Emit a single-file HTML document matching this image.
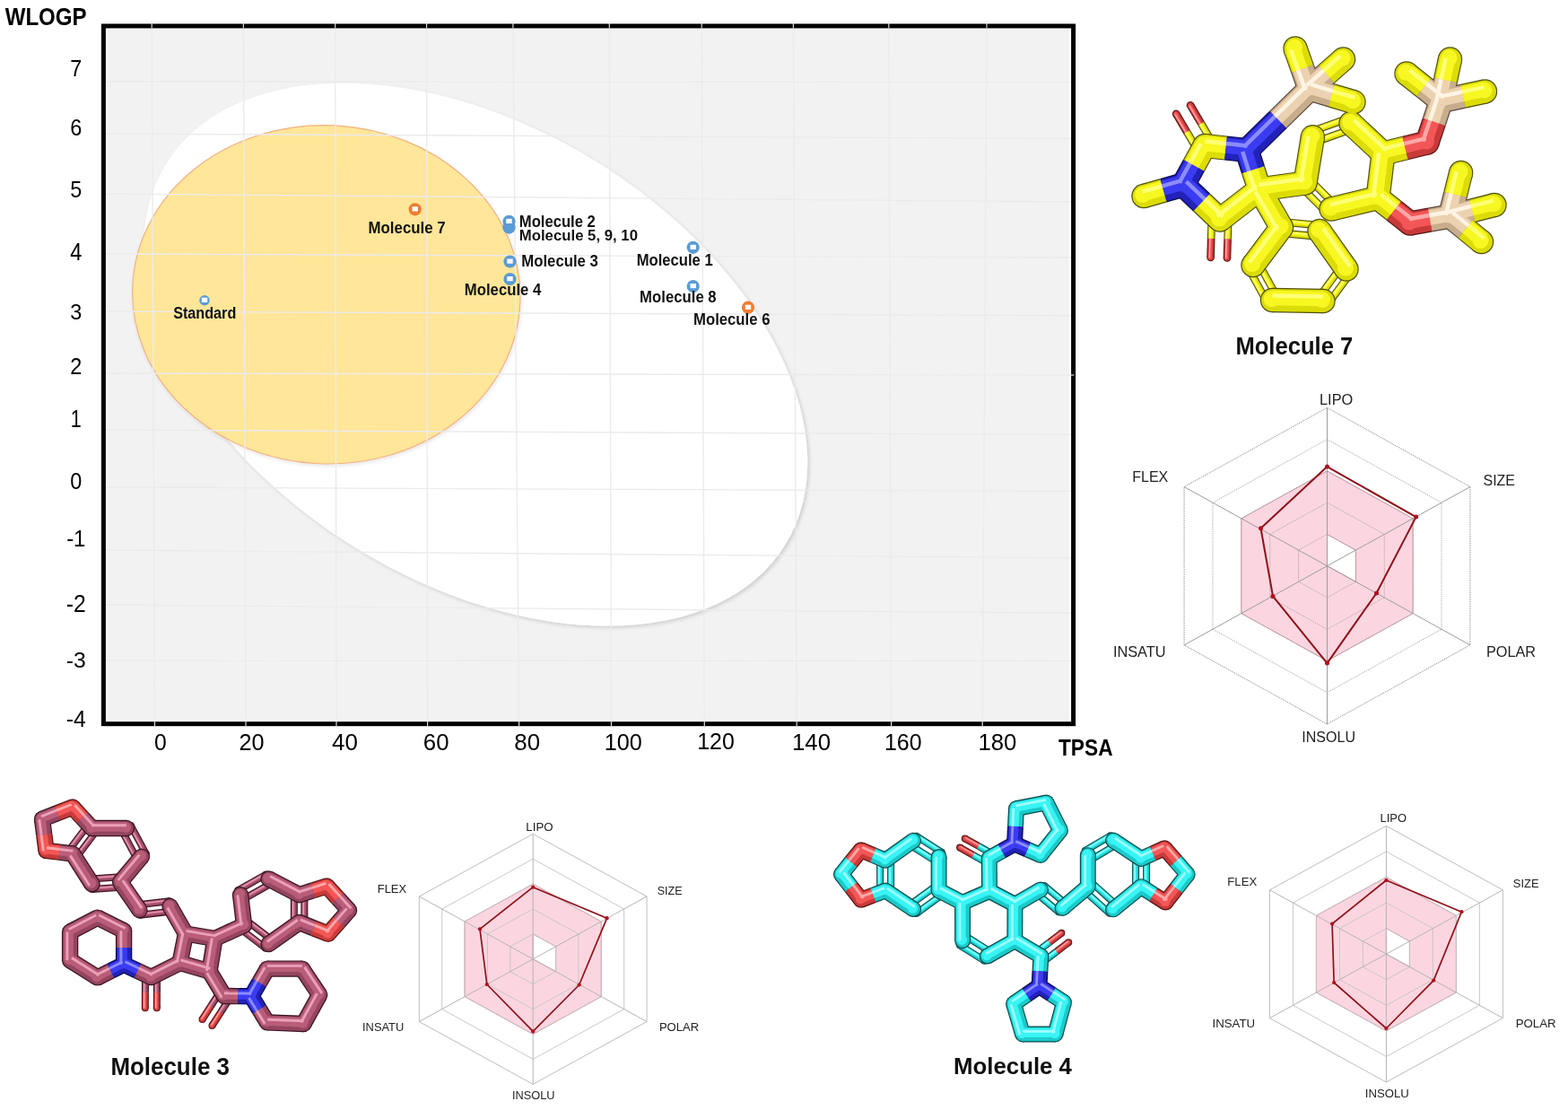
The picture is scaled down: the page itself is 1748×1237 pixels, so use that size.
<!DOCTYPE html>
<html><head><meta charset="utf-8"><title>BOILED-Egg and bioavailability radars</title>
<style>html,body{margin:0;padding:0;background:#fff;}svg{display:block;}</style></head>
<body><svg width="1748" height="1237" viewBox="0 0 1748 1237">
<defs>
<filter id="sh" x="-10%" y="-10%" width="120%" height="120%">
<feGaussianBlur in="SourceAlpha" stdDeviation="2.2"/><feOffset dx="1.8" dy="2.2" result="b"/>
<feComponentTransfer><feFuncA type="linear" slope="0.16"/></feComponentTransfer>
<feMerge><feMergeNode/><feMergeNode in="SourceGraphic"/></feMerge></filter>
<filter id="sh2" x="-10%" y="-10%" width="120%" height="120%">
<feGaussianBlur in="SourceAlpha" stdDeviation="2"/><feOffset dx="1" dy="2" result="b"/>
<feComponentTransfer><feFuncA type="linear" slope="0.10"/></feComponentTransfer>
<feMerge><feMergeNode/><feMergeNode in="SourceGraphic"/></feMerge></filter>
</defs><rect x="0" y="0" width="1748" height="1237" fill="#ffffff"/>
<rect x="119.5" y="33" width="1072.5" height="769" fill="#f2f2f2"/>
<g filter="url(#sh)"><ellipse cx="530.17" cy="395.04" rx="405.17" ry="253.59" transform="rotate(31.48 530.17 395.04)" fill="#ffffff"/></g>
<g filter="url(#sh2)"><ellipse cx="363.82" cy="328.29" rx="216.19" ry="188.63" transform="rotate(2.54 363.82 328.29)" fill="#ffe699" stroke="#f4b183" stroke-width="1.2"/></g>
<g stroke="#ebebeb" stroke-width="1.4"><line x1="169.2" y1="24" x2="172.5" y2="811"/><line x1="271.4" y1="24" x2="274.0" y2="811"/><line x1="373.7" y1="24" x2="375.0" y2="811"/><line x1="475.6" y1="24" x2="476.6" y2="811"/><line x1="571.9" y1="24" x2="578.6" y2="811"/><line x1="679.3" y1="24" x2="681.5" y2="811"/><line x1="782.2" y1="24" x2="785.3" y2="811"/><line x1="884.4" y1="24" x2="888.2" y2="811"/><line x1="990.8" y1="24" x2="993.6" y2="811"/><line x1="1100.0" y1="24" x2="1095.2" y2="811"/><line x1="118" y1="91.0" x2="1194" y2="91.4"/><line x1="118" y1="149.0" x2="1194" y2="154.5"/><line x1="118" y1="216.0" x2="1194" y2="225.0"/><line x1="118" y1="283.0" x2="1194" y2="287.0"/><line x1="118" y1="347.0" x2="1194" y2="351.7"/><line x1="118" y1="416.0" x2="1194" y2="418.0"/><line x1="118" y1="479.0" x2="1194" y2="484.4"/><line x1="118" y1="543.0" x2="1194" y2="547.4"/><line x1="118" y1="613.0" x2="1194" y2="621.8"/><line x1="118" y1="674.0" x2="1194" y2="683.2"/><line x1="118" y1="736.0" x2="1194" y2="736.6"/></g>
<rect x="115.4" y="29" width="1081.2" height="777.7" fill="none" stroke="#000" stroke-width="5"/>
<g stroke="#ffffff" stroke-width="1.2" opacity="0.85"><line x1="169.2" y1="26" x2="169.2" y2="31.5"/><line x1="271.4" y1="26" x2="271.4" y2="31.5"/><line x1="373.7" y1="26" x2="373.7" y2="31.5"/><line x1="475.6" y1="26" x2="475.6" y2="31.5"/><line x1="571.9" y1="26" x2="571.9" y2="31.5"/><line x1="679.3" y1="26" x2="679.3" y2="31.5"/><line x1="782.2" y1="26" x2="782.2" y2="31.5"/><line x1="884.4" y1="26" x2="884.4" y2="31.5"/><line x1="990.8" y1="26" x2="990.8" y2="31.5"/><line x1="1100.0" y1="26" x2="1100.0" y2="31.5"/><line x1="172.5" y1="804" x2="172.5" y2="809.5"/><line x1="274.0" y1="804" x2="274.0" y2="809.5"/><line x1="375.0" y1="804" x2="375.0" y2="809.5"/><line x1="476.6" y1="804" x2="476.6" y2="809.5"/><line x1="578.6" y1="804" x2="578.6" y2="809.5"/><line x1="681.5" y1="804" x2="681.5" y2="809.5"/><line x1="785.3" y1="804" x2="785.3" y2="809.5"/><line x1="888.2" y1="804" x2="888.2" y2="809.5"/><line x1="993.6" y1="804" x2="993.6" y2="809.5"/><line x1="1095.2" y1="804" x2="1095.2" y2="809.5"/><line x1="1193.5" y1="418" x2="1197.5" y2="418"/></g>
<text x="5.70" y="27.70" font-family="'Liberation Sans', Arial, sans-serif" font-size="27.03" font-weight="bold" fill="#000" textLength="90.96" lengthAdjust="spacingAndGlyphs">WLOGP</text>
<text x="1180.00" y="842.00" font-family="'Liberation Sans', Arial, sans-serif" font-size="26.31" font-weight="bold" fill="#000" textLength="60.55" lengthAdjust="spacingAndGlyphs">TPSA</text>
<text x="78.30" y="84.60" font-family="'Liberation Sans', Arial, sans-serif" font-size="26.31" font-weight="normal" fill="#000" textLength="13.03" lengthAdjust="spacingAndGlyphs">7</text>
<text x="78.30" y="151.20" font-family="'Liberation Sans', Arial, sans-serif" font-size="25.00" font-weight="normal" fill="#000" textLength="13.03" lengthAdjust="spacingAndGlyphs">6</text>
<text x="78.30" y="220.10" font-family="'Liberation Sans', Arial, sans-serif" font-size="25.73" font-weight="normal" fill="#000" textLength="13.03" lengthAdjust="spacingAndGlyphs">5</text>
<text x="78.30" y="289.90" font-family="'Liberation Sans', Arial, sans-serif" font-size="27.03" font-weight="normal" fill="#000" textLength="13.03" lengthAdjust="spacingAndGlyphs">4</text>
<text x="78.30" y="355.50" font-family="'Liberation Sans', Arial, sans-serif" font-size="24.42" font-weight="normal" fill="#000" textLength="13.03" lengthAdjust="spacingAndGlyphs">3</text>
<text x="78.30" y="417.30" font-family="'Liberation Sans', Arial, sans-serif" font-size="25.58" font-weight="normal" fill="#000" textLength="13.03" lengthAdjust="spacingAndGlyphs">2</text>
<text x="78.80" y="476.10" font-family="'Liberation Sans', Arial, sans-serif" font-size="27.18" font-weight="normal" fill="#000" textLength="12.03" lengthAdjust="spacingAndGlyphs">1</text>
<text x="78.30" y="545.10" font-family="'Liberation Sans', Arial, sans-serif" font-size="24.85" font-weight="normal" fill="#000" textLength="13.03" lengthAdjust="spacingAndGlyphs">0</text>
<text x="74.15" y="609.00" font-family="'Liberation Sans', Arial, sans-serif" font-size="25.29" font-weight="normal" fill="#000" textLength="21.28" lengthAdjust="spacingAndGlyphs">-1</text>
<text x="73.80" y="681.70" font-family="'Liberation Sans', Arial, sans-serif" font-size="26.74" font-weight="normal" fill="#000" textLength="21.98" lengthAdjust="spacingAndGlyphs">-2</text>
<text x="73.80" y="744.30" font-family="'Liberation Sans', Arial, sans-serif" font-size="24.13" font-weight="normal" fill="#000" textLength="21.98" lengthAdjust="spacingAndGlyphs">-3</text>
<text x="73.80" y="809.70" font-family="'Liberation Sans', Arial, sans-serif" font-size="25.44" font-weight="normal" fill="#000" textLength="21.98" lengthAdjust="spacingAndGlyphs">-4</text>
<text x="172.00" y="836.20" font-family="'Liberation Sans', Arial, sans-serif" font-size="25.87" font-weight="normal" fill="#000" textLength="13.73" lengthAdjust="spacingAndGlyphs">0</text>
<text x="266.40" y="836.20" font-family="'Liberation Sans', Arial, sans-serif" font-size="25.87" font-weight="normal" fill="#000" textLength="28.06" lengthAdjust="spacingAndGlyphs">20</text>
<text x="370.00" y="836.20" font-family="'Liberation Sans', Arial, sans-serif" font-size="25.87" font-weight="normal" fill="#000" textLength="28.86" lengthAdjust="spacingAndGlyphs">40</text>
<text x="471.80" y="836.20" font-family="'Liberation Sans', Arial, sans-serif" font-size="25.87" font-weight="normal" fill="#000" textLength="28.66" lengthAdjust="spacingAndGlyphs">60</text>
<text x="573.30" y="836.20" font-family="'Liberation Sans', Arial, sans-serif" font-size="25.87" font-weight="normal" fill="#000" textLength="28.76" lengthAdjust="spacingAndGlyphs">80</text>
<text x="673.70" y="836.20" font-family="'Liberation Sans', Arial, sans-serif" font-size="25.87" font-weight="normal" fill="#000" textLength="42.06" lengthAdjust="spacingAndGlyphs">100</text>
<text x="777.30" y="834.80" font-family="'Liberation Sans', Arial, sans-serif" font-size="25.87" font-weight="normal" fill="#000" textLength="41.46" lengthAdjust="spacingAndGlyphs">120</text>
<text x="883.00" y="836.20" font-family="'Liberation Sans', Arial, sans-serif" font-size="25.87" font-weight="normal" fill="#000" textLength="42.96" lengthAdjust="spacingAndGlyphs">140</text>
<text x="986.00" y="836.20" font-family="'Liberation Sans', Arial, sans-serif" font-size="25.87" font-weight="normal" fill="#000" textLength="41.56" lengthAdjust="spacingAndGlyphs">160</text>
<text x="1090.50" y="836.20" font-family="'Liberation Sans', Arial, sans-serif" font-size="25.87" font-weight="normal" fill="#000" textLength="42.86" lengthAdjust="spacingAndGlyphs">180</text>
<circle cx="462.7" cy="233.3" r="7.10" fill="#ed7d31"/><rect x="459.5" y="230.3" width="6.4" height="5.2" fill="#fff"/>
<circle cx="228.0" cy="334.7" r="5.70" fill="#5b9bd5"/><rect x="224.8" y="331.7" width="6.4" height="5.2" fill="#fff"/>
<circle cx="567.5" cy="253.5" r="7.2" fill="#5b9bd5"/>
<circle cx="567.5" cy="246.8" r="7.10" fill="#5b9bd5"/><rect x="564.3" y="243.8" width="6.4" height="5.2" fill="#fff"/>
<circle cx="568.5" cy="291.5" r="7.10" fill="#5b9bd5"/><rect x="565.3" y="288.5" width="6.4" height="5.2" fill="#fff"/>
<circle cx="568.5" cy="311.0" r="7.10" fill="#5b9bd5"/><rect x="565.3" y="308.0" width="6.4" height="5.2" fill="#fff"/>
<circle cx="772.7" cy="275.8" r="7.10" fill="#5b9bd5"/><rect x="769.5" y="272.8" width="6.4" height="5.2" fill="#fff"/>
<circle cx="772.7" cy="319.0" r="7.10" fill="#5b9bd5"/><rect x="769.5" y="316.0" width="6.4" height="5.2" fill="#fff"/>
<circle cx="834.0" cy="342.7" r="7.10" fill="#ed7d31"/><rect x="830.8" y="339.7" width="6.4" height="5.2" fill="#fff"/>
<text x="410.50" y="259.90" font-family="'Liberation Sans', Arial, sans-serif" font-size="18.46" font-weight="bold" fill="#111" textLength="86.16" lengthAdjust="spacingAndGlyphs">Molecule 7</text>
<text x="193.20" y="355.20" font-family="'Liberation Sans', Arial, sans-serif" font-size="18.46" font-weight="bold" fill="#111" textLength="70.09" lengthAdjust="spacingAndGlyphs">Standard</text>
<text x="578.80" y="253.30" font-family="'Liberation Sans', Arial, sans-serif" font-size="17.88" font-weight="bold" fill="#111" textLength="85.06" lengthAdjust="spacingAndGlyphs">Molecule 2</text>
<text x="578.80" y="267.50" font-family="'Liberation Sans', Arial, sans-serif" font-size="17.30" font-weight="bold" fill="#111" textLength="132.16" lengthAdjust="spacingAndGlyphs">Molecule 5, 9, 10</text>
<text x="581.20" y="297.30" font-family="'Liberation Sans', Arial, sans-serif" font-size="18.31" font-weight="bold" fill="#111" textLength="85.76" lengthAdjust="spacingAndGlyphs">Molecule 3</text>
<text x="517.80" y="329.30" font-family="'Liberation Sans', Arial, sans-serif" font-size="18.31" font-weight="bold" fill="#111" textLength="85.56" lengthAdjust="spacingAndGlyphs">Molecule 4</text>
<text x="709.70" y="295.50" font-family="'Liberation Sans', Arial, sans-serif" font-size="18.31" font-weight="bold" fill="#111" textLength="85.06" lengthAdjust="spacingAndGlyphs">Molecule 1</text>
<text x="713.10" y="337.30" font-family="'Liberation Sans', Arial, sans-serif" font-size="18.31" font-weight="bold" fill="#111" textLength="85.56" lengthAdjust="spacingAndGlyphs">Molecule 8</text>
<text x="773.00" y="362.00" font-family="'Liberation Sans', Arial, sans-serif" font-size="17.44" font-weight="bold" fill="#111" textLength="85.46" lengthAdjust="spacingAndGlyphs">Molecule 6</text>
<path d="M1479.50,524.92 L1575.14,577.81 L1575.14,683.59 L1479.50,736.48 L1383.86,683.59 L1383.86,577.81 Z M1479.50,630.70 L1479.50,595.44 L1511.38,613.07 L1511.38,648.33 Z" fill="#fbd6e0" fill-rule="evenodd" stroke="#d39aa6" stroke-width="1"/><polygon points="1479.50,595.44 1511.38,613.07 1511.38,648.33 1479.50,665.96 1447.62,648.33 1447.62,613.07" fill="none" stroke="#a0a0a0" stroke-width="0.9" stroke-dasharray="1.3,1.1"/><polygon points="1479.50,560.18 1543.26,595.44 1543.26,665.96 1479.50,701.22 1415.74,665.96 1415.74,595.44" fill="none" stroke="#a0a0a0" stroke-width="0.9" stroke-dasharray="1.3,1.1"/><polygon points="1479.50,524.92 1575.14,577.81 1575.14,683.59 1479.50,736.48 1383.86,683.59 1383.86,577.81" fill="none" stroke="#a0a0a0" stroke-width="0.9" stroke-dasharray="1.3,1.1"/><polygon points="1479.50,489.66 1607.02,560.18 1607.02,701.22 1479.50,771.74 1351.98,701.22 1351.98,560.18" fill="none" stroke="#a0a0a0" stroke-width="0.9" stroke-dasharray="1.3,1.1"/><polygon points="1479.50,454.40 1638.90,542.55 1638.90,718.85 1479.50,807.00 1320.10,718.85 1320.10,542.55" fill="none" stroke="#9a9a9a" stroke-width="1" stroke-dasharray="1.6,1"/><line x1="1479.50" y1="630.70" x2="1479.50" y2="454.40" stroke="#9c9c9c" stroke-width="1"/><line x1="1479.50" y1="630.70" x2="1638.90" y2="542.55" stroke="#9c9c9c" stroke-width="1"/><line x1="1479.50" y1="630.70" x2="1638.90" y2="718.85" stroke="#9c9c9c" stroke-width="1"/><line x1="1479.50" y1="630.70" x2="1479.50" y2="807.00" stroke="#9c9c9c" stroke-width="1"/><line x1="1479.50" y1="630.70" x2="1320.10" y2="718.85" stroke="#9c9c9c" stroke-width="1"/><line x1="1479.50" y1="630.70" x2="1320.10" y2="542.55" stroke="#9c9c9c" stroke-width="1"/><polygon points="1479.50,520.10 1578.60,576.10 1534.50,661.00 1479.50,739.10 1419.00,664.40 1405.50,588.70" fill="none" stroke="#8e1119" stroke-width="2.00" stroke-linejoin="round"/><circle cx="1479.50" cy="520.10" r="2.50" fill="#b0101c"/><circle cx="1578.60" cy="576.10" r="2.50" fill="#b0101c"/><circle cx="1534.50" cy="661.00" r="2.50" fill="#b0101c"/><circle cx="1479.50" cy="739.10" r="2.50" fill="#b0101c"/><circle cx="1419.00" cy="664.40" r="2.50" fill="#b0101c"/><circle cx="1405.50" cy="588.70" r="2.50" fill="#b0101c"/><text x="1471.00" y="450.70" font-family="'Liberation Sans', Arial, sans-serif" font-size="15.99" font-weight="normal" fill="#222" textLength="37.28" lengthAdjust="spacingAndGlyphs">LIPO</text><text x="1262.20" y="537.10" font-family="'Liberation Sans', Arial, sans-serif" font-size="16.28" font-weight="normal" fill="#222" textLength="40.12" lengthAdjust="spacingAndGlyphs">FLEX</text><text x="1653.60" y="540.50" font-family="'Liberation Sans', Arial, sans-serif" font-size="16.28" font-weight="normal" fill="#222" textLength="35.36" lengthAdjust="spacingAndGlyphs">SIZE</text><text x="1240.90" y="731.60" font-family="'Liberation Sans', Arial, sans-serif" font-size="16.28" font-weight="normal" fill="#222" textLength="58.67" lengthAdjust="spacingAndGlyphs">INSATU</text><text x="1657.00" y="731.60" font-family="'Liberation Sans', Arial, sans-serif" font-size="16.28" font-weight="normal" fill="#222" textLength="55.00" lengthAdjust="spacingAndGlyphs">POLAR</text><text x="1451.30" y="826.70" font-family="'Liberation Sans', Arial, sans-serif" font-size="16.42" font-weight="normal" fill="#222" textLength="59.67" lengthAdjust="spacingAndGlyphs">INSOLU</text>
<path d="M594.20,985.10 L670.31,1026.95 L670.31,1110.65 L594.20,1152.50 L518.09,1110.65 L518.09,1026.95 Z M594.20,1068.80 L594.20,1040.90 L619.57,1054.85 L619.57,1082.75 Z" fill="#fbd6e0" fill-rule="evenodd" stroke="#d39aa6" stroke-width="1"/><polygon points="594.20,1040.90 619.57,1054.85 619.57,1082.75 594.20,1096.70 568.83,1082.75 568.83,1054.85" fill="none" stroke="#c3c3c3" stroke-width="0.9"/><polygon points="594.20,1013.00 644.94,1040.90 644.94,1096.70 594.20,1124.60 543.46,1096.70 543.46,1040.90" fill="none" stroke="#c3c3c3" stroke-width="0.9"/><polygon points="594.20,985.10 670.31,1026.95 670.31,1110.65 594.20,1152.50 518.09,1110.65 518.09,1026.95" fill="none" stroke="#c3c3c3" stroke-width="0.9"/><polygon points="594.20,957.20 695.68,1013.00 695.68,1124.60 594.20,1180.40 492.72,1124.60 492.72,1013.00" fill="none" stroke="#c3c3c3" stroke-width="0.9"/><polygon points="594.20,929.30 721.05,999.05 721.05,1138.55 594.20,1208.30 467.35,1138.55 467.35,999.05" fill="none" stroke="#bdbdbd" stroke-width="1"/><line x1="594.20" y1="1068.80" x2="594.20" y2="929.30" stroke="#b4b4b4" stroke-width="1"/><line x1="594.20" y1="1068.80" x2="721.05" y2="999.05" stroke="#b4b4b4" stroke-width="1"/><line x1="594.20" y1="1068.80" x2="721.05" y2="1138.55" stroke="#b4b4b4" stroke-width="1"/><line x1="594.20" y1="1068.80" x2="594.20" y2="1208.30" stroke="#b4b4b4" stroke-width="1"/><line x1="594.20" y1="1068.80" x2="467.35" y2="1138.55" stroke="#b4b4b4" stroke-width="1"/><line x1="594.20" y1="1068.80" x2="467.35" y2="999.05" stroke="#b4b4b4" stroke-width="1"/><polygon points="594.20,988.70 676.60,1023.20 645.70,1097.50 594.20,1149.40 542.80,1097.00 535.00,1035.30" fill="none" stroke="#8e1119" stroke-width="1.70" stroke-linejoin="round"/><circle cx="594.20" cy="988.70" r="2.12" fill="#b0101c"/><circle cx="676.60" cy="1023.20" r="2.12" fill="#b0101c"/><circle cx="645.70" cy="1097.50" r="2.12" fill="#b0101c"/><circle cx="594.20" cy="1149.40" r="2.12" fill="#b0101c"/><circle cx="542.80" cy="1097.00" r="2.12" fill="#b0101c"/><circle cx="535.00" cy="1035.30" r="2.12" fill="#b0101c"/><text x="586.30" y="925.80" font-family="'Liberation Sans', Arial, sans-serif" font-size="13.37" font-weight="normal" fill="#222" textLength="30.28" lengthAdjust="spacingAndGlyphs">LIPO</text><text x="420.80" y="994.50" font-family="'Liberation Sans', Arial, sans-serif" font-size="13.37" font-weight="normal" fill="#222" textLength="32.31" lengthAdjust="spacingAndGlyphs">FLEX</text><text x="732.70" y="996.80" font-family="'Liberation Sans', Arial, sans-serif" font-size="13.37" font-weight="normal" fill="#222" textLength="27.97" lengthAdjust="spacingAndGlyphs">SIZE</text><text x="404.00" y="1149.40" font-family="'Liberation Sans', Arial, sans-serif" font-size="13.52" font-weight="normal" fill="#222" textLength="46.27" lengthAdjust="spacingAndGlyphs">INSATU</text><text x="734.90" y="1149.40" font-family="'Liberation Sans', Arial, sans-serif" font-size="13.52" font-weight="normal" fill="#222" textLength="44.30" lengthAdjust="spacingAndGlyphs">POLAR</text><text x="570.90" y="1224.80" font-family="'Liberation Sans', Arial, sans-serif" font-size="13.52" font-weight="normal" fill="#222" textLength="47.58" lengthAdjust="spacingAndGlyphs">INSOLU</text>
<path d="M1545.40,977.52 L1623.39,1020.36 L1623.39,1106.04 L1545.40,1148.88 L1467.41,1106.04 L1467.41,1020.36 Z M1545.40,1063.20 L1545.40,1034.64 L1571.40,1048.92 L1571.40,1077.48 Z" fill="#fbd6e0" fill-rule="evenodd" stroke="#d39aa6" stroke-width="1"/><polygon points="1545.40,1034.64 1571.40,1048.92 1571.40,1077.48 1545.40,1091.76 1519.40,1077.48 1519.40,1048.92" fill="none" stroke="#c3c3c3" stroke-width="0.9"/><polygon points="1545.40,1006.08 1597.39,1034.64 1597.39,1091.76 1545.40,1120.32 1493.41,1091.76 1493.41,1034.64" fill="none" stroke="#c3c3c3" stroke-width="0.9"/><polygon points="1545.40,977.52 1623.39,1020.36 1623.39,1106.04 1545.40,1148.88 1467.41,1106.04 1467.41,1020.36" fill="none" stroke="#c3c3c3" stroke-width="0.9"/><polygon points="1545.40,948.96 1649.38,1006.08 1649.38,1120.32 1545.40,1177.44 1441.42,1120.32 1441.42,1006.08" fill="none" stroke="#c3c3c3" stroke-width="0.9"/><polygon points="1545.40,920.40 1675.38,991.80 1675.38,1134.60 1545.40,1206.00 1415.42,1134.60 1415.42,991.80" fill="none" stroke="#bdbdbd" stroke-width="1"/><line x1="1545.40" y1="1063.20" x2="1545.40" y2="920.40" stroke="#b4b4b4" stroke-width="1"/><line x1="1545.40" y1="1063.20" x2="1675.38" y2="991.80" stroke="#b4b4b4" stroke-width="1"/><line x1="1545.40" y1="1063.20" x2="1675.38" y2="1134.60" stroke="#b4b4b4" stroke-width="1"/><line x1="1545.40" y1="1063.20" x2="1545.40" y2="1206.00" stroke="#b4b4b4" stroke-width="1"/><line x1="1545.40" y1="1063.20" x2="1415.42" y2="1134.60" stroke="#b4b4b4" stroke-width="1"/><line x1="1545.40" y1="1063.20" x2="1415.42" y2="991.80" stroke="#b4b4b4" stroke-width="1"/><polygon points="1545.40,981.00 1629.40,1016.20 1598.20,1092.60 1545.40,1146.00 1487.10,1095.00 1485.10,1029.50" fill="none" stroke="#8e1119" stroke-width="1.70" stroke-linejoin="round"/><circle cx="1545.40" cy="981.00" r="2.12" fill="#b0101c"/><circle cx="1629.40" cy="1016.20" r="2.12" fill="#b0101c"/><circle cx="1598.20" cy="1092.60" r="2.12" fill="#b0101c"/><circle cx="1545.40" cy="1146.00" r="2.12" fill="#b0101c"/><circle cx="1487.10" cy="1095.00" r="2.12" fill="#b0101c"/><circle cx="1485.10" cy="1029.50" r="2.12" fill="#b0101c"/><text x="1538.50" y="916.40" font-family="'Liberation Sans', Arial, sans-serif" font-size="13.37" font-weight="normal" fill="#222" textLength="29.48" lengthAdjust="spacingAndGlyphs">LIPO</text><text x="1368.30" y="987.00" font-family="'Liberation Sans', Arial, sans-serif" font-size="13.37" font-weight="normal" fill="#222" textLength="32.91" lengthAdjust="spacingAndGlyphs">FLEX</text><text x="1686.80" y="989.20" font-family="'Liberation Sans', Arial, sans-serif" font-size="13.66" font-weight="normal" fill="#222" textLength="28.77" lengthAdjust="spacingAndGlyphs">SIZE</text><text x="1351.50" y="1145.40" font-family="'Liberation Sans', Arial, sans-serif" font-size="13.37" font-weight="normal" fill="#222" textLength="47.57" lengthAdjust="spacingAndGlyphs">INSATU</text><text x="1689.70" y="1145.40" font-family="'Liberation Sans', Arial, sans-serif" font-size="13.37" font-weight="normal" fill="#222" textLength="45.00" lengthAdjust="spacingAndGlyphs">POLAR</text><text x="1521.80" y="1222.80" font-family="'Liberation Sans', Arial, sans-serif" font-size="13.37" font-weight="normal" fill="#222" textLength="48.98" lengthAdjust="spacingAndGlyphs">INSOLU</text>
<text x="1377.40" y="395.00" font-family="'Liberation Sans', Arial, sans-serif" font-size="28.20" font-weight="bold" fill="#111" textLength="130.85" lengthAdjust="spacingAndGlyphs">Molecule 7</text>
<text x="123.40" y="1197.70" font-family="'Liberation Sans', Arial, sans-serif" font-size="27.91" font-weight="bold" fill="#111" textLength="132.55" lengthAdjust="spacingAndGlyphs">Molecule 3</text>
<text x="1063.00" y="1196.70" font-family="'Liberation Sans', Arial, sans-serif" font-size="26.60" font-weight="bold" fill="#111" textLength="131.95" lengthAdjust="spacingAndGlyphs">Molecule 4</text>
<line x1="1461.30" y1="146.81" x2="1503.90" y2="131.61" stroke="#50500a" stroke-width="8.60"/><circle cx="1461.30" cy="146.81" r="4.30" fill="#50500a"/><circle cx="1503.90" cy="131.61" r="4.30" fill="#50500a"/><line x1="1465.50" y1="158.59" x2="1508.10" y2="143.39" stroke="#50500a" stroke-width="8.60"/><circle cx="1465.50" cy="158.59" r="4.30" fill="#50500a"/><circle cx="1508.10" cy="143.39" r="4.30" fill="#50500a"/><line x1="1479.58" y1="237.42" x2="1450.58" y2="208.42" stroke="#50500a" stroke-width="8.60"/><circle cx="1479.58" cy="237.42" r="4.30" fill="#50500a"/><circle cx="1450.58" cy="208.42" r="4.30" fill="#50500a"/><line x1="1488.42" y1="228.58" x2="1459.42" y2="199.58" stroke="#50500a" stroke-width="8.60"/><circle cx="1488.42" cy="228.58" r="4.30" fill="#50500a"/><circle cx="1459.42" cy="199.58" r="4.30" fill="#50500a"/><line x1="1429.07" y1="247.28" x2="1471.57" y2="251.18" stroke="#50500a" stroke-width="8.60"/><circle cx="1429.07" cy="247.28" r="4.30" fill="#50500a"/><circle cx="1471.57" cy="251.18" r="4.30" fill="#50500a"/><line x1="1427.93" y1="259.72" x2="1470.43" y2="263.62" stroke="#50500a" stroke-width="8.60"/><circle cx="1427.93" cy="259.72" r="4.30" fill="#50500a"/><circle cx="1470.43" cy="263.62" r="4.30" fill="#50500a"/><line x1="1506.04" y1="303.69" x2="1480.04" y2="339.19" stroke="#50500a" stroke-width="8.60"/><circle cx="1506.04" cy="303.69" r="4.30" fill="#50500a"/><circle cx="1480.04" cy="339.19" r="4.30" fill="#50500a"/><line x1="1495.96" y1="296.31" x2="1469.96" y2="331.81" stroke="#50500a" stroke-width="8.60"/><circle cx="1495.96" cy="296.31" r="4.30" fill="#50500a"/><circle cx="1469.96" cy="331.81" r="4.30" fill="#50500a"/><line x1="1413.03" y1="337.52" x2="1391.53" y2="298.52" stroke="#50500a" stroke-width="8.60"/><circle cx="1413.03" cy="337.52" r="4.30" fill="#50500a"/><circle cx="1391.53" cy="298.52" r="4.30" fill="#50500a"/><line x1="1423.97" y1="331.48" x2="1402.47" y2="292.48" stroke="#50500a" stroke-width="8.60"/><circle cx="1423.97" cy="331.48" r="4.30" fill="#50500a"/><circle cx="1402.47" cy="292.48" r="4.30" fill="#50500a"/><line x1="1335.03" y1="167.20" x2="1323.08" y2="146.95" stroke="#50500a" stroke-width="8.60"/><line x1="1323.08" y1="146.95" x2="1311.13" y2="126.70" stroke="#551515" stroke-width="8.60"/><circle cx="1335.03" cy="167.20" r="4.30" fill="#50500a"/><circle cx="1311.13" cy="126.70" r="4.30" fill="#551515"/><line x1="1350.97" y1="157.80" x2="1339.02" y2="137.55" stroke="#50500a" stroke-width="8.60"/><line x1="1339.02" y1="137.55" x2="1327.07" y2="117.30" stroke="#551515" stroke-width="8.60"/><circle cx="1350.97" cy="157.80" r="4.30" fill="#50500a"/><circle cx="1327.07" cy="117.30" r="4.30" fill="#551515"/><line x1="1369.20" y1="245.26" x2="1368.60" y2="266.36" stroke="#50500a" stroke-width="8.60"/><line x1="1368.60" y1="266.36" x2="1368.00" y2="287.46" stroke="#551515" stroke-width="8.60"/><circle cx="1369.20" cy="245.26" r="4.30" fill="#50500a"/><circle cx="1368.00" cy="287.46" r="4.30" fill="#551515"/><line x1="1350.80" y1="244.74" x2="1350.20" y2="265.84" stroke="#50500a" stroke-width="8.60"/><line x1="1350.20" y1="265.84" x2="1349.60" y2="286.94" stroke="#551515" stroke-width="8.60"/><circle cx="1350.80" cy="244.74" r="4.30" fill="#50500a"/><circle cx="1349.60" cy="286.94" r="4.30" fill="#551515"/><line x1="1461.30" y1="146.81" x2="1503.90" y2="131.61" stroke="#dcdc08" stroke-width="6.40"/><circle cx="1461.30" cy="146.81" r="3.20" fill="#dcdc08"/><circle cx="1503.90" cy="131.61" r="3.20" fill="#dcdc08"/><line x1="1465.50" y1="158.59" x2="1508.10" y2="143.39" stroke="#dcdc08" stroke-width="6.40"/><circle cx="1465.50" cy="158.59" r="3.20" fill="#dcdc08"/><circle cx="1508.10" cy="143.39" r="3.20" fill="#dcdc08"/><line x1="1479.58" y1="237.42" x2="1450.58" y2="208.42" stroke="#dcdc08" stroke-width="6.40"/><circle cx="1479.58" cy="237.42" r="3.20" fill="#dcdc08"/><circle cx="1450.58" cy="208.42" r="3.20" fill="#dcdc08"/><line x1="1488.42" y1="228.58" x2="1459.42" y2="199.58" stroke="#dcdc08" stroke-width="6.40"/><circle cx="1488.42" cy="228.58" r="3.20" fill="#dcdc08"/><circle cx="1459.42" cy="199.58" r="3.20" fill="#dcdc08"/><line x1="1429.07" y1="247.28" x2="1471.57" y2="251.18" stroke="#dcdc08" stroke-width="6.40"/><circle cx="1429.07" cy="247.28" r="3.20" fill="#dcdc08"/><circle cx="1471.57" cy="251.18" r="3.20" fill="#dcdc08"/><line x1="1427.93" y1="259.72" x2="1470.43" y2="263.62" stroke="#dcdc08" stroke-width="6.40"/><circle cx="1427.93" cy="259.72" r="3.20" fill="#dcdc08"/><circle cx="1470.43" cy="263.62" r="3.20" fill="#dcdc08"/><line x1="1506.04" y1="303.69" x2="1480.04" y2="339.19" stroke="#dcdc08" stroke-width="6.40"/><circle cx="1506.04" cy="303.69" r="3.20" fill="#dcdc08"/><circle cx="1480.04" cy="339.19" r="3.20" fill="#dcdc08"/><line x1="1495.96" y1="296.31" x2="1469.96" y2="331.81" stroke="#dcdc08" stroke-width="6.40"/><circle cx="1495.96" cy="296.31" r="3.20" fill="#dcdc08"/><circle cx="1469.96" cy="331.81" r="3.20" fill="#dcdc08"/><line x1="1413.03" y1="337.52" x2="1391.53" y2="298.52" stroke="#dcdc08" stroke-width="6.40"/><circle cx="1413.03" cy="337.52" r="3.20" fill="#dcdc08"/><circle cx="1391.53" cy="298.52" r="3.20" fill="#dcdc08"/><line x1="1423.97" y1="331.48" x2="1402.47" y2="292.48" stroke="#dcdc08" stroke-width="6.40"/><circle cx="1423.97" cy="331.48" r="3.20" fill="#dcdc08"/><circle cx="1402.47" cy="292.48" r="3.20" fill="#dcdc08"/><line x1="1335.03" y1="167.20" x2="1323.08" y2="146.95" stroke="#dcdc08" stroke-width="6.40"/><line x1="1323.08" y1="146.95" x2="1311.13" y2="126.70" stroke="#c83a3a" stroke-width="6.40"/><circle cx="1335.03" cy="167.20" r="3.20" fill="#dcdc08"/><circle cx="1311.13" cy="126.70" r="3.20" fill="#c83a3a"/><line x1="1350.97" y1="157.80" x2="1339.02" y2="137.55" stroke="#dcdc08" stroke-width="6.40"/><line x1="1339.02" y1="137.55" x2="1327.07" y2="117.30" stroke="#c83a3a" stroke-width="6.40"/><circle cx="1350.97" cy="157.80" r="3.20" fill="#dcdc08"/><circle cx="1327.07" cy="117.30" r="3.20" fill="#c83a3a"/><line x1="1369.20" y1="245.26" x2="1368.60" y2="266.36" stroke="#dcdc08" stroke-width="6.40"/><line x1="1368.60" y1="266.36" x2="1368.00" y2="287.46" stroke="#c83a3a" stroke-width="6.40"/><circle cx="1369.20" cy="245.26" r="3.20" fill="#dcdc08"/><circle cx="1368.00" cy="287.46" r="3.20" fill="#c83a3a"/><line x1="1350.80" y1="244.74" x2="1350.20" y2="265.84" stroke="#dcdc08" stroke-width="6.40"/><line x1="1350.20" y1="265.84" x2="1349.60" y2="286.94" stroke="#c83a3a" stroke-width="6.40"/><circle cx="1350.80" cy="244.74" r="3.20" fill="#dcdc08"/><circle cx="1349.60" cy="286.94" r="3.20" fill="#c83a3a"/><line x1="1461.04" y1="146.09" x2="1503.64" y2="130.89" stroke="#f7f722" stroke-width="3.97"/><circle cx="1461.04" cy="146.09" r="1.98" fill="#f7f722"/><circle cx="1503.64" cy="130.89" r="1.98" fill="#f7f722"/><line x1="1465.24" y1="157.86" x2="1507.84" y2="142.66" stroke="#f7f722" stroke-width="3.97"/><circle cx="1465.24" cy="157.86" r="1.98" fill="#f7f722"/><circle cx="1507.84" cy="142.66" r="1.98" fill="#f7f722"/><line x1="1480.12" y1="236.88" x2="1451.12" y2="207.88" stroke="#f7f722" stroke-width="3.97"/><circle cx="1480.12" cy="236.88" r="1.98" fill="#f7f722"/><circle cx="1451.12" cy="207.88" r="1.98" fill="#f7f722"/><line x1="1488.96" y1="228.04" x2="1459.96" y2="199.04" stroke="#f7f722" stroke-width="3.97"/><circle cx="1488.96" cy="228.04" r="1.98" fill="#f7f722"/><circle cx="1459.96" cy="199.04" r="1.98" fill="#f7f722"/><line x1="1429.14" y1="246.51" x2="1471.64" y2="250.41" stroke="#f7f722" stroke-width="3.97"/><circle cx="1429.14" cy="246.51" r="1.98" fill="#f7f722"/><circle cx="1471.64" cy="250.41" r="1.98" fill="#f7f722"/><line x1="1428.00" y1="258.96" x2="1470.50" y2="262.86" stroke="#f7f722" stroke-width="3.97"/><circle cx="1428.00" cy="258.96" r="1.98" fill="#f7f722"/><circle cx="1470.50" cy="262.86" r="1.98" fill="#f7f722"/><line x1="1505.42" y1="303.24" x2="1479.42" y2="338.74" stroke="#f7f722" stroke-width="3.97"/><circle cx="1505.42" cy="303.24" r="1.98" fill="#f7f722"/><circle cx="1479.42" cy="338.74" r="1.98" fill="#f7f722"/><line x1="1495.34" y1="295.85" x2="1469.34" y2="331.35" stroke="#f7f722" stroke-width="3.97"/><circle cx="1495.34" cy="295.85" r="1.98" fill="#f7f722"/><circle cx="1469.34" cy="331.35" r="1.98" fill="#f7f722"/><line x1="1412.35" y1="337.89" x2="1390.85" y2="298.89" stroke="#f7f722" stroke-width="3.97"/><circle cx="1412.35" cy="337.89" r="1.98" fill="#f7f722"/><circle cx="1390.85" cy="298.89" r="1.98" fill="#f7f722"/><line x1="1423.30" y1="331.85" x2="1401.80" y2="292.85" stroke="#f7f722" stroke-width="3.97"/><circle cx="1423.30" cy="331.85" r="1.98" fill="#f7f722"/><circle cx="1401.80" cy="292.85" r="1.98" fill="#f7f722"/><line x1="1334.37" y1="167.59" x2="1322.42" y2="147.34" stroke="#f7f722" stroke-width="3.97"/><line x1="1322.42" y1="147.34" x2="1310.47" y2="127.09" stroke="#f35656" stroke-width="3.97"/><circle cx="1334.37" cy="167.59" r="1.98" fill="#f7f722"/><circle cx="1310.47" cy="127.09" r="1.98" fill="#f35656"/><line x1="1350.30" y1="158.19" x2="1338.35" y2="137.94" stroke="#f7f722" stroke-width="3.97"/><line x1="1338.35" y1="137.94" x2="1326.40" y2="117.69" stroke="#f35656" stroke-width="3.97"/><circle cx="1350.30" cy="158.19" r="1.98" fill="#f7f722"/><circle cx="1326.40" cy="117.69" r="1.98" fill="#f35656"/><line x1="1368.43" y1="245.24" x2="1367.83" y2="266.34" stroke="#f7f722" stroke-width="3.97"/><line x1="1367.83" y1="266.34" x2="1367.23" y2="287.44" stroke="#f35656" stroke-width="3.97"/><circle cx="1368.43" cy="245.24" r="1.98" fill="#f7f722"/><circle cx="1367.23" cy="287.44" r="1.98" fill="#f35656"/><line x1="1350.04" y1="244.72" x2="1349.44" y2="265.82" stroke="#f7f722" stroke-width="3.97"/><line x1="1349.44" y1="265.82" x2="1348.84" y2="286.92" stroke="#f35656" stroke-width="3.97"/><circle cx="1350.04" cy="244.72" r="1.98" fill="#f7f722"/><circle cx="1348.84" cy="286.92" r="1.98" fill="#f35656"/><line x1="1460.87" y1="145.61" x2="1503.47" y2="130.41" stroke="#ffff78" stroke-width="1.41"/><line x1="1465.07" y1="157.38" x2="1507.67" y2="142.18" stroke="#ffff78" stroke-width="1.41"/><line x1="1480.49" y1="236.51" x2="1451.49" y2="207.51" stroke="#ffff78" stroke-width="1.41"/><line x1="1489.32" y1="227.68" x2="1460.32" y2="198.68" stroke="#ffff78" stroke-width="1.41"/><line x1="1429.19" y1="246.00" x2="1471.69" y2="249.90" stroke="#ffff78" stroke-width="1.41"/><line x1="1428.05" y1="258.45" x2="1470.55" y2="262.35" stroke="#ffff78" stroke-width="1.41"/><line x1="1505.01" y1="302.94" x2="1479.01" y2="338.44" stroke="#ffff78" stroke-width="1.41"/><line x1="1494.93" y1="295.55" x2="1468.93" y2="331.05" stroke="#ffff78" stroke-width="1.41"/><line x1="1411.91" y1="338.14" x2="1390.41" y2="299.14" stroke="#ffff78" stroke-width="1.41"/><line x1="1422.85" y1="332.10" x2="1401.35" y2="293.10" stroke="#ffff78" stroke-width="1.41"/><line x1="1333.93" y1="167.85" x2="1321.98" y2="147.60" stroke="#ffff78" stroke-width="1.41"/><line x1="1321.98" y1="147.60" x2="1310.03" y2="127.35" stroke="#ffa8a8" stroke-width="1.41"/><line x1="1349.86" y1="158.45" x2="1337.91" y2="138.20" stroke="#ffff78" stroke-width="1.41"/><line x1="1337.91" y1="138.20" x2="1325.96" y2="117.95" stroke="#ffa8a8" stroke-width="1.41"/><line x1="1367.92" y1="245.23" x2="1367.32" y2="266.33" stroke="#ffff78" stroke-width="1.41"/><line x1="1367.32" y1="266.33" x2="1366.72" y2="287.43" stroke="#ffa8a8" stroke-width="1.41"/><line x1="1349.52" y1="244.70" x2="1348.92" y2="265.80" stroke="#ffff78" stroke-width="1.41"/><line x1="1348.92" y1="265.80" x2="1348.32" y2="286.90" stroke="#ffa8a8" stroke-width="1.41"/><line x1="1275.00" y1="218.50" x2="1297.00" y2="212.25" stroke="#50500a" stroke-width="27.40"/><line x1="1297.00" y1="212.25" x2="1319.00" y2="206.00" stroke="#0a0a50" stroke-width="27.40"/><line x1="1319.00" y1="206.00" x2="1331.00" y2="184.25" stroke="#0a0a50" stroke-width="27.40"/><line x1="1331.00" y1="184.25" x2="1343.00" y2="162.50" stroke="#50500a" stroke-width="27.40"/><line x1="1343.00" y1="162.50" x2="1366.50" y2="165.00" stroke="#50500a" stroke-width="27.40"/><line x1="1366.50" y1="165.00" x2="1390.00" y2="167.50" stroke="#0a0a50" stroke-width="27.40"/><line x1="1390.00" y1="167.50" x2="1397.00" y2="189.25" stroke="#0a0a50" stroke-width="27.40"/><line x1="1397.00" y1="189.25" x2="1404.00" y2="211.00" stroke="#50500a" stroke-width="27.40"/><line x1="1404.00" y1="211.00" x2="1360.00" y2="245.00" stroke="#50500a" stroke-width="27.40"/><line x1="1360.00" y1="245.00" x2="1339.50" y2="225.50" stroke="#50500a" stroke-width="27.40"/><line x1="1339.50" y1="225.50" x2="1319.00" y2="206.00" stroke="#0a0a50" stroke-width="27.40"/><line x1="1390.00" y1="167.50" x2="1425.00" y2="133.25" stroke="#0a0a50" stroke-width="27.40"/><line x1="1425.00" y1="133.25" x2="1460.00" y2="99.00" stroke="#554636" stroke-width="27.40"/><line x1="1460.00" y1="99.00" x2="1452.00" y2="76.50" stroke="#554636" stroke-width="27.40"/><line x1="1452.00" y1="76.50" x2="1444.00" y2="54.00" stroke="#50500a" stroke-width="27.40"/><line x1="1460.00" y1="99.00" x2="1478.75" y2="82.50" stroke="#554636" stroke-width="27.40"/><line x1="1478.75" y1="82.50" x2="1497.50" y2="66.00" stroke="#50500a" stroke-width="27.40"/><line x1="1460.00" y1="99.00" x2="1484.50" y2="106.35" stroke="#554636" stroke-width="27.40"/><line x1="1484.50" y1="106.35" x2="1509.00" y2="113.70" stroke="#50500a" stroke-width="27.40"/><line x1="1506.00" y1="137.50" x2="1542.00" y2="171.00" stroke="#50500a" stroke-width="27.40"/><line x1="1542.00" y1="171.00" x2="1536.00" y2="220.50" stroke="#50500a" stroke-width="27.40"/><line x1="1536.00" y1="220.50" x2="1484.00" y2="233.00" stroke="#50500a" stroke-width="27.40"/><line x1="1542.00" y1="171.00" x2="1566.50" y2="165.00" stroke="#50500a" stroke-width="27.40"/><line x1="1566.50" y1="165.00" x2="1591.00" y2="159.00" stroke="#551515" stroke-width="27.40"/><line x1="1591.00" y1="159.00" x2="1598.75" y2="135.75" stroke="#551515" stroke-width="27.40"/><line x1="1598.75" y1="135.75" x2="1606.50" y2="112.50" stroke="#554636" stroke-width="27.40"/><line x1="1606.50" y1="112.50" x2="1587.25" y2="97.25" stroke="#554636" stroke-width="27.40"/><line x1="1587.25" y1="97.25" x2="1568.00" y2="82.00" stroke="#50500a" stroke-width="27.40"/><line x1="1606.50" y1="112.50" x2="1611.50" y2="89.25" stroke="#554636" stroke-width="27.40"/><line x1="1611.50" y1="89.25" x2="1616.50" y2="66.00" stroke="#50500a" stroke-width="27.40"/><line x1="1606.50" y1="112.50" x2="1631.00" y2="107.25" stroke="#554636" stroke-width="27.40"/><line x1="1631.00" y1="107.25" x2="1655.50" y2="102.00" stroke="#50500a" stroke-width="27.40"/><line x1="1536.00" y1="220.50" x2="1554.00" y2="234.75" stroke="#50500a" stroke-width="27.40"/><line x1="1554.00" y1="234.75" x2="1572.00" y2="249.00" stroke="#551515" stroke-width="27.40"/><line x1="1572.00" y1="249.00" x2="1594.25" y2="245.00" stroke="#551515" stroke-width="27.40"/><line x1="1594.25" y1="245.00" x2="1616.50" y2="241.00" stroke="#554636" stroke-width="27.40"/><line x1="1616.50" y1="241.00" x2="1622.55" y2="216.75" stroke="#554636" stroke-width="27.40"/><line x1="1622.55" y1="216.75" x2="1628.60" y2="192.50" stroke="#50500a" stroke-width="27.40"/><line x1="1616.50" y1="241.00" x2="1641.25" y2="234.75" stroke="#554636" stroke-width="27.40"/><line x1="1641.25" y1="234.75" x2="1666.00" y2="228.50" stroke="#50500a" stroke-width="27.40"/><line x1="1616.50" y1="241.00" x2="1634.00" y2="255.25" stroke="#554636" stroke-width="27.40"/><line x1="1634.00" y1="255.25" x2="1651.50" y2="269.50" stroke="#50500a" stroke-width="27.40"/><line x1="1471.00" y1="257.40" x2="1501.00" y2="300.00" stroke="#50500a" stroke-width="27.40"/><line x1="1475.00" y1="335.50" x2="1418.50" y2="334.50" stroke="#50500a" stroke-width="27.40"/><line x1="1397.00" y1="295.50" x2="1428.50" y2="253.50" stroke="#50500a" stroke-width="27.40"/><line x1="1404.00" y1="211.00" x2="1428.50" y2="253.50" stroke="#50500a" stroke-width="27.40"/><line x1="1404.00" y1="211.00" x2="1455.00" y2="204.00" stroke="#50500a" stroke-width="27.40"/><line x1="1455.00" y1="204.00" x2="1463.40" y2="152.70" stroke="#50500a" stroke-width="27.40"/><circle cx="1275.00" cy="218.50" r="13.70" fill="#50500a"/><circle cx="1319.00" cy="206.00" r="13.70" fill="#0a0a50"/><circle cx="1343.00" cy="162.50" r="13.70" fill="#50500a"/><circle cx="1390.00" cy="167.50" r="13.70" fill="#0a0a50"/><circle cx="1404.00" cy="211.00" r="13.70" fill="#50500a"/><circle cx="1360.00" cy="245.00" r="13.70" fill="#50500a"/><circle cx="1460.00" cy="99.00" r="13.70" fill="#554636"/><circle cx="1444.00" cy="54.00" r="13.70" fill="#50500a"/><circle cx="1497.50" cy="66.00" r="13.70" fill="#50500a"/><circle cx="1509.00" cy="113.70" r="13.70" fill="#50500a"/><circle cx="1506.00" cy="137.50" r="13.70" fill="#50500a"/><circle cx="1542.00" cy="171.00" r="13.70" fill="#50500a"/><circle cx="1536.00" cy="220.50" r="13.70" fill="#50500a"/><circle cx="1484.00" cy="233.00" r="13.70" fill="#50500a"/><circle cx="1591.00" cy="159.00" r="13.70" fill="#551515"/><circle cx="1606.50" cy="112.50" r="13.70" fill="#554636"/><circle cx="1568.00" cy="82.00" r="13.70" fill="#50500a"/><circle cx="1616.50" cy="66.00" r="13.70" fill="#50500a"/><circle cx="1655.50" cy="102.00" r="13.70" fill="#50500a"/><circle cx="1572.00" cy="249.00" r="13.70" fill="#551515"/><circle cx="1616.50" cy="241.00" r="13.70" fill="#554636"/><circle cx="1628.60" cy="192.50" r="13.70" fill="#50500a"/><circle cx="1666.00" cy="228.50" r="13.70" fill="#50500a"/><circle cx="1651.50" cy="269.50" r="13.70" fill="#50500a"/><circle cx="1471.00" cy="257.40" r="13.70" fill="#50500a"/><circle cx="1501.00" cy="300.00" r="13.70" fill="#50500a"/><circle cx="1475.00" cy="335.50" r="13.70" fill="#50500a"/><circle cx="1418.50" cy="334.50" r="13.70" fill="#50500a"/><circle cx="1397.00" cy="295.50" r="13.70" fill="#50500a"/><circle cx="1428.50" cy="253.50" r="13.70" fill="#50500a"/><circle cx="1455.00" cy="204.00" r="13.70" fill="#50500a"/><circle cx="1463.40" cy="152.70" r="13.70" fill="#50500a"/><line x1="1275.00" y1="218.50" x2="1297.00" y2="212.25" stroke="#dcdc08" stroke-width="25.00"/><line x1="1297.00" y1="212.25" x2="1319.00" y2="206.00" stroke="#2222b8" stroke-width="25.00"/><line x1="1319.00" y1="206.00" x2="1331.00" y2="184.25" stroke="#2222b8" stroke-width="25.00"/><line x1="1331.00" y1="184.25" x2="1343.00" y2="162.50" stroke="#dcdc08" stroke-width="25.00"/><line x1="1343.00" y1="162.50" x2="1366.50" y2="165.00" stroke="#dcdc08" stroke-width="25.00"/><line x1="1366.50" y1="165.00" x2="1390.00" y2="167.50" stroke="#2222b8" stroke-width="25.00"/><line x1="1390.00" y1="167.50" x2="1397.00" y2="189.25" stroke="#2222b8" stroke-width="25.00"/><line x1="1397.00" y1="189.25" x2="1404.00" y2="211.00" stroke="#dcdc08" stroke-width="25.00"/><line x1="1404.00" y1="211.00" x2="1360.00" y2="245.00" stroke="#dcdc08" stroke-width="25.00"/><line x1="1360.00" y1="245.00" x2="1339.50" y2="225.50" stroke="#dcdc08" stroke-width="25.00"/><line x1="1339.50" y1="225.50" x2="1319.00" y2="206.00" stroke="#2222b8" stroke-width="25.00"/><line x1="1390.00" y1="167.50" x2="1425.00" y2="133.25" stroke="#2222b8" stroke-width="25.00"/><line x1="1425.00" y1="133.25" x2="1460.00" y2="99.00" stroke="#c8ad8c" stroke-width="25.00"/><line x1="1460.00" y1="99.00" x2="1452.00" y2="76.50" stroke="#c8ad8c" stroke-width="25.00"/><line x1="1452.00" y1="76.50" x2="1444.00" y2="54.00" stroke="#dcdc08" stroke-width="25.00"/><line x1="1460.00" y1="99.00" x2="1478.75" y2="82.50" stroke="#c8ad8c" stroke-width="25.00"/><line x1="1478.75" y1="82.50" x2="1497.50" y2="66.00" stroke="#dcdc08" stroke-width="25.00"/><line x1="1460.00" y1="99.00" x2="1484.50" y2="106.35" stroke="#c8ad8c" stroke-width="25.00"/><line x1="1484.50" y1="106.35" x2="1509.00" y2="113.70" stroke="#dcdc08" stroke-width="25.00"/><line x1="1506.00" y1="137.50" x2="1542.00" y2="171.00" stroke="#dcdc08" stroke-width="25.00"/><line x1="1542.00" y1="171.00" x2="1536.00" y2="220.50" stroke="#dcdc08" stroke-width="25.00"/><line x1="1536.00" y1="220.50" x2="1484.00" y2="233.00" stroke="#dcdc08" stroke-width="25.00"/><line x1="1542.00" y1="171.00" x2="1566.50" y2="165.00" stroke="#dcdc08" stroke-width="25.00"/><line x1="1566.50" y1="165.00" x2="1591.00" y2="159.00" stroke="#c83a3a" stroke-width="25.00"/><line x1="1591.00" y1="159.00" x2="1598.75" y2="135.75" stroke="#c83a3a" stroke-width="25.00"/><line x1="1598.75" y1="135.75" x2="1606.50" y2="112.50" stroke="#c8ad8c" stroke-width="25.00"/><line x1="1606.50" y1="112.50" x2="1587.25" y2="97.25" stroke="#c8ad8c" stroke-width="25.00"/><line x1="1587.25" y1="97.25" x2="1568.00" y2="82.00" stroke="#dcdc08" stroke-width="25.00"/><line x1="1606.50" y1="112.50" x2="1611.50" y2="89.25" stroke="#c8ad8c" stroke-width="25.00"/><line x1="1611.50" y1="89.25" x2="1616.50" y2="66.00" stroke="#dcdc08" stroke-width="25.00"/><line x1="1606.50" y1="112.50" x2="1631.00" y2="107.25" stroke="#c8ad8c" stroke-width="25.00"/><line x1="1631.00" y1="107.25" x2="1655.50" y2="102.00" stroke="#dcdc08" stroke-width="25.00"/><line x1="1536.00" y1="220.50" x2="1554.00" y2="234.75" stroke="#dcdc08" stroke-width="25.00"/><line x1="1554.00" y1="234.75" x2="1572.00" y2="249.00" stroke="#c83a3a" stroke-width="25.00"/><line x1="1572.00" y1="249.00" x2="1594.25" y2="245.00" stroke="#c83a3a" stroke-width="25.00"/><line x1="1594.25" y1="245.00" x2="1616.50" y2="241.00" stroke="#c8ad8c" stroke-width="25.00"/><line x1="1616.50" y1="241.00" x2="1622.55" y2="216.75" stroke="#c8ad8c" stroke-width="25.00"/><line x1="1622.55" y1="216.75" x2="1628.60" y2="192.50" stroke="#dcdc08" stroke-width="25.00"/><line x1="1616.50" y1="241.00" x2="1641.25" y2="234.75" stroke="#c8ad8c" stroke-width="25.00"/><line x1="1641.25" y1="234.75" x2="1666.00" y2="228.50" stroke="#dcdc08" stroke-width="25.00"/><line x1="1616.50" y1="241.00" x2="1634.00" y2="255.25" stroke="#c8ad8c" stroke-width="25.00"/><line x1="1634.00" y1="255.25" x2="1651.50" y2="269.50" stroke="#dcdc08" stroke-width="25.00"/><line x1="1471.00" y1="257.40" x2="1501.00" y2="300.00" stroke="#dcdc08" stroke-width="25.00"/><line x1="1475.00" y1="335.50" x2="1418.50" y2="334.50" stroke="#dcdc08" stroke-width="25.00"/><line x1="1397.00" y1="295.50" x2="1428.50" y2="253.50" stroke="#dcdc08" stroke-width="25.00"/><line x1="1404.00" y1="211.00" x2="1428.50" y2="253.50" stroke="#dcdc08" stroke-width="25.00"/><line x1="1404.00" y1="211.00" x2="1455.00" y2="204.00" stroke="#dcdc08" stroke-width="25.00"/><line x1="1455.00" y1="204.00" x2="1463.40" y2="152.70" stroke="#dcdc08" stroke-width="25.00"/><circle cx="1275.00" cy="218.50" r="12.50" fill="#dcdc08"/><circle cx="1319.00" cy="206.00" r="12.50" fill="#2222b8"/><circle cx="1343.00" cy="162.50" r="12.50" fill="#dcdc08"/><circle cx="1390.00" cy="167.50" r="12.50" fill="#2222b8"/><circle cx="1404.00" cy="211.00" r="12.50" fill="#dcdc08"/><circle cx="1360.00" cy="245.00" r="12.50" fill="#dcdc08"/><circle cx="1460.00" cy="99.00" r="12.50" fill="#c8ad8c"/><circle cx="1444.00" cy="54.00" r="12.50" fill="#dcdc08"/><circle cx="1497.50" cy="66.00" r="12.50" fill="#dcdc08"/><circle cx="1509.00" cy="113.70" r="12.50" fill="#dcdc08"/><circle cx="1506.00" cy="137.50" r="12.50" fill="#dcdc08"/><circle cx="1542.00" cy="171.00" r="12.50" fill="#dcdc08"/><circle cx="1536.00" cy="220.50" r="12.50" fill="#dcdc08"/><circle cx="1484.00" cy="233.00" r="12.50" fill="#dcdc08"/><circle cx="1591.00" cy="159.00" r="12.50" fill="#c83a3a"/><circle cx="1606.50" cy="112.50" r="12.50" fill="#c8ad8c"/><circle cx="1568.00" cy="82.00" r="12.50" fill="#dcdc08"/><circle cx="1616.50" cy="66.00" r="12.50" fill="#dcdc08"/><circle cx="1655.50" cy="102.00" r="12.50" fill="#dcdc08"/><circle cx="1572.00" cy="249.00" r="12.50" fill="#c83a3a"/><circle cx="1616.50" cy="241.00" r="12.50" fill="#c8ad8c"/><circle cx="1628.60" cy="192.50" r="12.50" fill="#dcdc08"/><circle cx="1666.00" cy="228.50" r="12.50" fill="#dcdc08"/><circle cx="1651.50" cy="269.50" r="12.50" fill="#dcdc08"/><circle cx="1471.00" cy="257.40" r="12.50" fill="#dcdc08"/><circle cx="1501.00" cy="300.00" r="12.50" fill="#dcdc08"/><circle cx="1475.00" cy="335.50" r="12.50" fill="#dcdc08"/><circle cx="1418.50" cy="334.50" r="12.50" fill="#dcdc08"/><circle cx="1397.00" cy="295.50" r="12.50" fill="#dcdc08"/><circle cx="1428.50" cy="253.50" r="12.50" fill="#dcdc08"/><circle cx="1455.00" cy="204.00" r="12.50" fill="#dcdc08"/><circle cx="1463.40" cy="152.70" r="12.50" fill="#dcdc08"/><line x1="1274.32" y1="216.10" x2="1296.32" y2="209.85" stroke="#f7f722" stroke-width="16.50"/><line x1="1296.32" y1="209.85" x2="1318.32" y2="203.60" stroke="#3b3bf2" stroke-width="16.50"/><line x1="1316.81" y1="204.79" x2="1328.81" y2="183.04" stroke="#3b3bf2" stroke-width="16.50"/><line x1="1328.81" y1="183.04" x2="1340.81" y2="161.29" stroke="#f7f722" stroke-width="16.50"/><line x1="1343.26" y1="160.01" x2="1366.76" y2="162.51" stroke="#f7f722" stroke-width="16.50"/><line x1="1366.76" y1="162.51" x2="1390.26" y2="165.01" stroke="#3b3bf2" stroke-width="16.50"/><line x1="1387.62" y1="168.27" x2="1394.62" y2="190.02" stroke="#3b3bf2" stroke-width="16.50"/><line x1="1394.62" y1="190.02" x2="1401.62" y2="211.77" stroke="#f7f722" stroke-width="16.50"/><line x1="1402.47" y1="209.02" x2="1358.47" y2="243.02" stroke="#f7f722" stroke-width="16.50"/><line x1="1361.72" y1="243.19" x2="1341.22" y2="223.69" stroke="#f7f722" stroke-width="16.50"/><line x1="1341.22" y1="223.69" x2="1320.72" y2="204.19" stroke="#3b3bf2" stroke-width="16.50"/><line x1="1388.25" y1="165.71" x2="1423.25" y2="131.46" stroke="#3b3bf2" stroke-width="16.50"/><line x1="1423.25" y1="131.46" x2="1458.25" y2="97.21" stroke="#ecd2b0" stroke-width="16.50"/><line x1="1457.64" y1="99.84" x2="1449.64" y2="77.34" stroke="#ecd2b0" stroke-width="16.50"/><line x1="1449.64" y1="77.34" x2="1441.64" y2="54.84" stroke="#f7f722" stroke-width="16.50"/><line x1="1458.35" y1="97.12" x2="1477.10" y2="80.62" stroke="#ecd2b0" stroke-width="16.50"/><line x1="1477.10" y1="80.62" x2="1495.85" y2="64.12" stroke="#f7f722" stroke-width="16.50"/><line x1="1460.72" y1="96.61" x2="1485.22" y2="103.96" stroke="#ecd2b0" stroke-width="16.50"/><line x1="1485.22" y1="103.96" x2="1509.72" y2="111.31" stroke="#f7f722" stroke-width="16.50"/><line x1="1507.70" y1="135.67" x2="1543.70" y2="169.17" stroke="#f7f722" stroke-width="16.50"/><line x1="1539.52" y1="170.70" x2="1533.52" y2="220.20" stroke="#f7f722" stroke-width="16.50"/><line x1="1535.42" y1="218.07" x2="1483.42" y2="230.57" stroke="#f7f722" stroke-width="16.50"/><line x1="1541.41" y1="168.57" x2="1565.91" y2="162.57" stroke="#f7f722" stroke-width="16.50"/><line x1="1565.91" y1="162.57" x2="1590.41" y2="156.57" stroke="#f35656" stroke-width="16.50"/><line x1="1588.63" y1="158.21" x2="1596.38" y2="134.96" stroke="#f35656" stroke-width="16.50"/><line x1="1596.38" y1="134.96" x2="1604.13" y2="111.71" stroke="#ecd2b0" stroke-width="16.50"/><line x1="1608.05" y1="110.54" x2="1588.80" y2="95.29" stroke="#ecd2b0" stroke-width="16.50"/><line x1="1588.80" y1="95.29" x2="1569.55" y2="80.04" stroke="#f7f722" stroke-width="16.50"/><line x1="1604.06" y1="111.97" x2="1609.06" y2="88.72" stroke="#ecd2b0" stroke-width="16.50"/><line x1="1609.06" y1="88.72" x2="1614.06" y2="65.47" stroke="#f7f722" stroke-width="16.50"/><line x1="1605.98" y1="110.06" x2="1630.48" y2="104.81" stroke="#ecd2b0" stroke-width="16.50"/><line x1="1630.48" y1="104.81" x2="1654.98" y2="99.56" stroke="#f7f722" stroke-width="16.50"/><line x1="1537.55" y1="218.54" x2="1555.55" y2="232.79" stroke="#f7f722" stroke-width="16.50"/><line x1="1555.55" y1="232.79" x2="1573.55" y2="247.04" stroke="#f35656" stroke-width="16.50"/><line x1="1571.56" y1="246.54" x2="1593.81" y2="242.54" stroke="#f35656" stroke-width="16.50"/><line x1="1593.81" y1="242.54" x2="1616.06" y2="238.54" stroke="#ecd2b0" stroke-width="16.50"/><line x1="1614.07" y1="240.39" x2="1620.12" y2="216.14" stroke="#ecd2b0" stroke-width="16.50"/><line x1="1620.12" y1="216.14" x2="1626.17" y2="191.89" stroke="#f7f722" stroke-width="16.50"/><line x1="1615.89" y1="238.58" x2="1640.64" y2="232.33" stroke="#ecd2b0" stroke-width="16.50"/><line x1="1640.64" y1="232.33" x2="1665.39" y2="226.08" stroke="#f7f722" stroke-width="16.50"/><line x1="1618.08" y1="239.06" x2="1635.58" y2="253.31" stroke="#ecd2b0" stroke-width="16.50"/><line x1="1635.58" y1="253.31" x2="1653.08" y2="267.56" stroke="#f7f722" stroke-width="16.50"/><line x1="1473.04" y1="255.96" x2="1503.04" y2="298.56" stroke="#f7f722" stroke-width="16.50"/><line x1="1475.04" y1="333.00" x2="1418.54" y2="332.00" stroke="#f7f722" stroke-width="16.50"/><line x1="1395.00" y1="294.00" x2="1426.50" y2="252.00" stroke="#f7f722" stroke-width="16.50"/><line x1="1401.83" y1="212.25" x2="1426.33" y2="254.75" stroke="#f7f722" stroke-width="16.50"/><line x1="1403.66" y1="208.52" x2="1454.66" y2="201.52" stroke="#f7f722" stroke-width="16.50"/><line x1="1452.53" y1="203.60" x2="1460.93" y2="152.30" stroke="#f7f722" stroke-width="16.50"/><circle cx="1274.04" cy="217.05" r="9.00" fill="#f7f722"/><circle cx="1318.04" cy="204.55" r="9.00" fill="#3b3bf2"/><circle cx="1342.04" cy="161.05" r="9.00" fill="#f7f722"/><circle cx="1389.04" cy="166.05" r="9.00" fill="#3b3bf2"/><circle cx="1403.04" cy="209.55" r="9.00" fill="#f7f722"/><circle cx="1359.04" cy="243.55" r="9.00" fill="#f7f722"/><circle cx="1459.04" cy="97.55" r="9.00" fill="#ecd2b0"/><circle cx="1443.04" cy="52.55" r="9.00" fill="#f7f722"/><circle cx="1496.54" cy="64.55" r="9.00" fill="#f7f722"/><circle cx="1508.04" cy="112.25" r="9.00" fill="#f7f722"/><circle cx="1505.04" cy="136.05" r="9.00" fill="#f7f722"/><circle cx="1541.04" cy="169.55" r="9.00" fill="#f7f722"/><circle cx="1535.04" cy="219.05" r="9.00" fill="#f7f722"/><circle cx="1483.04" cy="231.55" r="9.00" fill="#f7f722"/><circle cx="1590.04" cy="157.55" r="9.00" fill="#f35656"/><circle cx="1605.54" cy="111.05" r="9.00" fill="#ecd2b0"/><circle cx="1567.04" cy="80.55" r="9.00" fill="#f7f722"/><circle cx="1615.54" cy="64.55" r="9.00" fill="#f7f722"/><circle cx="1654.54" cy="100.55" r="9.00" fill="#f7f722"/><circle cx="1571.04" cy="247.55" r="9.00" fill="#f35656"/><circle cx="1615.54" cy="239.55" r="9.00" fill="#ecd2b0"/><circle cx="1627.64" cy="191.05" r="9.00" fill="#f7f722"/><circle cx="1665.04" cy="227.05" r="9.00" fill="#f7f722"/><circle cx="1650.54" cy="268.05" r="9.00" fill="#f7f722"/><circle cx="1470.04" cy="255.95" r="9.00" fill="#f7f722"/><circle cx="1500.04" cy="298.55" r="9.00" fill="#f7f722"/><circle cx="1474.04" cy="334.05" r="9.00" fill="#f7f722"/><circle cx="1417.54" cy="333.05" r="9.00" fill="#f7f722"/><circle cx="1396.04" cy="294.05" r="9.00" fill="#f7f722"/><circle cx="1427.54" cy="252.05" r="9.00" fill="#f7f722"/><circle cx="1454.04" cy="202.55" r="9.00" fill="#f7f722"/><circle cx="1462.44" cy="151.25" r="9.00" fill="#f7f722"/><line x1="1273.63" y1="213.69" x2="1295.63" y2="207.44" stroke="#ffff78" stroke-width="4.50"/><line x1="1295.63" y1="207.44" x2="1317.63" y2="201.19" stroke="#8c8cff" stroke-width="4.50"/><line x1="1314.62" y1="203.58" x2="1326.62" y2="181.83" stroke="#8c8cff" stroke-width="4.50"/><line x1="1326.62" y1="181.83" x2="1338.62" y2="160.08" stroke="#ffff78" stroke-width="4.50"/><line x1="1343.53" y1="157.53" x2="1367.03" y2="160.03" stroke="#ffff78" stroke-width="4.50"/><line x1="1367.03" y1="160.03" x2="1390.53" y2="162.53" stroke="#8c8cff" stroke-width="4.50"/><line x1="1385.24" y1="169.03" x2="1392.24" y2="190.78" stroke="#8c8cff" stroke-width="4.50"/><line x1="1392.24" y1="190.78" x2="1399.24" y2="212.53" stroke="#ffff78" stroke-width="4.50"/><line x1="1400.94" y1="207.04" x2="1356.94" y2="241.04" stroke="#ffff78" stroke-width="4.50"/><line x1="1363.45" y1="241.38" x2="1342.95" y2="221.88" stroke="#ffff78" stroke-width="4.50"/><line x1="1342.95" y1="221.88" x2="1322.45" y2="202.38" stroke="#8c8cff" stroke-width="4.50"/><line x1="1386.50" y1="163.93" x2="1421.50" y2="129.68" stroke="#8c8cff" stroke-width="4.50"/><line x1="1421.50" y1="129.68" x2="1456.50" y2="95.43" stroke="#fff4e4" stroke-width="4.50"/><line x1="1455.29" y1="100.68" x2="1447.29" y2="78.18" stroke="#fff4e4" stroke-width="4.50"/><line x1="1447.29" y1="78.18" x2="1439.29" y2="55.68" stroke="#ffff78" stroke-width="4.50"/><line x1="1456.70" y1="95.25" x2="1475.45" y2="78.75" stroke="#fff4e4" stroke-width="4.50"/><line x1="1475.45" y1="78.75" x2="1494.20" y2="62.25" stroke="#ffff78" stroke-width="4.50"/><line x1="1461.44" y1="94.21" x2="1485.94" y2="101.56" stroke="#fff4e4" stroke-width="4.50"/><line x1="1485.94" y1="101.56" x2="1510.44" y2="108.91" stroke="#ffff78" stroke-width="4.50"/><line x1="1509.41" y1="133.84" x2="1545.41" y2="167.34" stroke="#ffff78" stroke-width="4.50"/><line x1="1537.04" y1="170.40" x2="1531.04" y2="219.90" stroke="#ffff78" stroke-width="4.50"/><line x1="1534.83" y1="215.64" x2="1482.83" y2="228.14" stroke="#ffff78" stroke-width="4.50"/><line x1="1540.81" y1="166.14" x2="1565.31" y2="160.14" stroke="#ffff78" stroke-width="4.50"/><line x1="1565.31" y1="160.14" x2="1589.81" y2="154.14" stroke="#ffa8a8" stroke-width="4.50"/><line x1="1586.26" y1="157.42" x2="1594.01" y2="134.17" stroke="#ffa8a8" stroke-width="4.50"/><line x1="1594.01" y1="134.17" x2="1601.76" y2="110.92" stroke="#fff4e4" stroke-width="4.50"/><line x1="1609.60" y1="108.58" x2="1590.35" y2="93.33" stroke="#fff4e4" stroke-width="4.50"/><line x1="1590.35" y1="93.33" x2="1571.10" y2="78.08" stroke="#ffff78" stroke-width="4.50"/><line x1="1601.61" y1="111.45" x2="1606.61" y2="88.20" stroke="#fff4e4" stroke-width="4.50"/><line x1="1606.61" y1="88.20" x2="1611.61" y2="64.95" stroke="#ffff78" stroke-width="4.50"/><line x1="1605.45" y1="107.61" x2="1629.95" y2="102.36" stroke="#fff4e4" stroke-width="4.50"/><line x1="1629.95" y1="102.36" x2="1654.45" y2="97.11" stroke="#ffff78" stroke-width="4.50"/><line x1="1539.10" y1="216.58" x2="1557.10" y2="230.83" stroke="#ffff78" stroke-width="4.50"/><line x1="1557.10" y1="230.83" x2="1575.10" y2="245.08" stroke="#ffa8a8" stroke-width="4.50"/><line x1="1571.12" y1="244.08" x2="1593.37" y2="240.08" stroke="#ffa8a8" stroke-width="4.50"/><line x1="1593.37" y1="240.08" x2="1615.62" y2="236.08" stroke="#fff4e4" stroke-width="4.50"/><line x1="1611.65" y1="239.79" x2="1617.70" y2="215.54" stroke="#fff4e4" stroke-width="4.50"/><line x1="1617.70" y1="215.54" x2="1623.75" y2="191.29" stroke="#ffff78" stroke-width="4.50"/><line x1="1615.28" y1="236.15" x2="1640.03" y2="229.90" stroke="#fff4e4" stroke-width="4.50"/><line x1="1640.03" y1="229.90" x2="1664.78" y2="223.65" stroke="#ffff78" stroke-width="4.50"/><line x1="1619.66" y1="237.12" x2="1637.16" y2="251.37" stroke="#fff4e4" stroke-width="4.50"/><line x1="1637.16" y1="251.37" x2="1654.66" y2="265.62" stroke="#ffff78" stroke-width="4.50"/><line x1="1475.09" y1="254.52" x2="1505.09" y2="297.12" stroke="#ffff78" stroke-width="4.50"/><line x1="1475.09" y1="330.50" x2="1418.59" y2="329.50" stroke="#ffff78" stroke-width="4.50"/><line x1="1393.00" y1="292.50" x2="1424.50" y2="250.50" stroke="#ffff78" stroke-width="4.50"/><line x1="1399.67" y1="213.50" x2="1424.17" y2="256.00" stroke="#ffff78" stroke-width="4.50"/><line x1="1403.32" y1="206.05" x2="1454.32" y2="199.05" stroke="#ffff78" stroke-width="4.50"/><line x1="1450.07" y1="203.19" x2="1458.47" y2="151.89" stroke="#ffff78" stroke-width="4.50"/>
<line x1="107.09" y1="926.46" x2="85.59" y2="954.96" stroke="#3a1422" stroke-width="8.00"/><circle cx="107.09" cy="926.46" r="4.00" fill="#3a1422"/><circle cx="85.59" cy="954.96" r="4.00" fill="#3a1422"/><line x1="97.91" y1="919.54" x2="76.41" y2="948.04" stroke="#3a1422" stroke-width="8.00"/><circle cx="97.91" cy="919.54" r="4.00" fill="#3a1422"/><circle cx="76.41" cy="948.04" r="4.00" fill="#3a1422"/><line x1="145.97" y1="920.28" x2="162.97" y2="951.98" stroke="#3a1422" stroke-width="8.00"/><circle cx="145.97" cy="920.28" r="4.00" fill="#3a1422"/><circle cx="162.97" cy="951.98" r="4.00" fill="#3a1422"/><line x1="135.83" y1="925.72" x2="152.83" y2="957.42" stroke="#3a1422" stroke-width="8.00"/><circle cx="135.83" cy="925.72" r="4.00" fill="#3a1422"/><circle cx="152.83" cy="957.42" r="4.00" fill="#3a1422"/><line x1="134.50" y1="988.74" x2="102.90" y2="990.94" stroke="#3a1422" stroke-width="8.00"/><circle cx="134.50" cy="988.74" r="4.00" fill="#3a1422"/><circle cx="102.90" cy="990.94" r="4.00" fill="#3a1422"/><line x1="133.70" y1="977.26" x2="102.10" y2="979.46" stroke="#3a1422" stroke-width="8.00"/><circle cx="133.70" cy="977.26" r="4.00" fill="#3a1422"/><circle cx="102.10" cy="979.46" r="4.00" fill="#3a1422"/><line x1="154.83" y1="1008.29" x2="188.83" y2="1004.29" stroke="#3a1422" stroke-width="8.00"/><circle cx="154.83" cy="1008.29" r="4.00" fill="#3a1422"/><circle cx="188.83" cy="1004.29" r="4.00" fill="#3a1422"/><line x1="156.17" y1="1019.71" x2="190.17" y2="1015.71" stroke="#3a1422" stroke-width="8.00"/><circle cx="156.17" cy="1019.71" r="4.00" fill="#3a1422"/><circle cx="190.17" cy="1015.71" r="4.00" fill="#3a1422"/><line x1="265.27" y1="992.19" x2="296.77" y2="974.39" stroke="#3a1422" stroke-width="8.00"/><circle cx="265.27" cy="992.19" r="4.00" fill="#3a1422"/><circle cx="296.77" cy="974.39" r="4.00" fill="#3a1422"/><line x1="270.93" y1="1002.21" x2="302.43" y2="984.41" stroke="#3a1422" stroke-width="8.00"/><circle cx="270.93" cy="1002.21" r="4.00" fill="#3a1422"/><circle cx="302.43" cy="984.41" r="4.00" fill="#3a1422"/><line x1="339.35" y1="997.20" x2="339.35" y2="1027.90" stroke="#3a1422" stroke-width="8.00"/><circle cx="339.35" cy="997.20" r="4.00" fill="#3a1422"/><circle cx="339.35" cy="1027.90" r="4.00" fill="#3a1422"/><line x1="327.85" y1="997.20" x2="327.85" y2="1027.90" stroke="#3a1422" stroke-width="8.00"/><circle cx="327.85" cy="997.20" r="4.00" fill="#3a1422"/><circle cx="327.85" cy="1027.90" r="4.00" fill="#3a1422"/><line x1="296.11" y1="1056.67" x2="268.61" y2="1035.67" stroke="#3a1422" stroke-width="8.00"/><circle cx="296.11" cy="1056.67" r="4.00" fill="#3a1422"/><circle cx="268.61" cy="1035.67" r="4.00" fill="#3a1422"/><line x1="303.09" y1="1047.53" x2="275.59" y2="1026.53" stroke="#3a1422" stroke-width="8.00"/><circle cx="303.09" cy="1047.53" r="4.00" fill="#3a1422"/><circle cx="275.59" cy="1026.53" r="4.00" fill="#3a1422"/><line x1="175.00" y1="1089.04" x2="174.90" y2="1106.19" stroke="#3a1422" stroke-width="8.00"/><line x1="174.90" y1="1106.19" x2="174.80" y2="1123.34" stroke="#551515" stroke-width="8.00"/><circle cx="175.00" cy="1089.04" r="4.00" fill="#3a1422"/><circle cx="174.80" cy="1123.34" r="4.00" fill="#551515"/><line x1="162.00" y1="1088.96" x2="161.90" y2="1106.11" stroke="#3a1422" stroke-width="8.00"/><line x1="161.90" y1="1106.11" x2="161.80" y2="1123.26" stroke="#551515" stroke-width="8.00"/><circle cx="162.00" cy="1088.96" r="4.00" fill="#3a1422"/><circle cx="161.80" cy="1123.26" r="4.00" fill="#551515"/><line x1="255.46" y1="1113.52" x2="245.96" y2="1128.27" stroke="#3a1422" stroke-width="8.00"/><line x1="245.96" y1="1128.27" x2="236.46" y2="1143.02" stroke="#551515" stroke-width="8.00"/><circle cx="255.46" cy="1113.52" r="4.00" fill="#3a1422"/><circle cx="236.46" cy="1143.02" r="4.00" fill="#551515"/><line x1="244.54" y1="1106.48" x2="235.04" y2="1121.23" stroke="#3a1422" stroke-width="8.00"/><line x1="235.04" y1="1121.23" x2="225.54" y2="1135.98" stroke="#551515" stroke-width="8.00"/><circle cx="244.54" cy="1106.48" r="4.00" fill="#3a1422"/><circle cx="225.54" cy="1135.98" r="4.00" fill="#551515"/><line x1="107.09" y1="926.46" x2="85.59" y2="954.96" stroke="#944560" stroke-width="5.80"/><circle cx="107.09" cy="926.46" r="2.90" fill="#944560"/><circle cx="85.59" cy="954.96" r="2.90" fill="#944560"/><line x1="97.91" y1="919.54" x2="76.41" y2="948.04" stroke="#944560" stroke-width="5.80"/><circle cx="97.91" cy="919.54" r="2.90" fill="#944560"/><circle cx="76.41" cy="948.04" r="2.90" fill="#944560"/><line x1="145.97" y1="920.28" x2="162.97" y2="951.98" stroke="#944560" stroke-width="5.80"/><circle cx="145.97" cy="920.28" r="2.90" fill="#944560"/><circle cx="162.97" cy="951.98" r="2.90" fill="#944560"/><line x1="135.83" y1="925.72" x2="152.83" y2="957.42" stroke="#944560" stroke-width="5.80"/><circle cx="135.83" cy="925.72" r="2.90" fill="#944560"/><circle cx="152.83" cy="957.42" r="2.90" fill="#944560"/><line x1="134.50" y1="988.74" x2="102.90" y2="990.94" stroke="#944560" stroke-width="5.80"/><circle cx="134.50" cy="988.74" r="2.90" fill="#944560"/><circle cx="102.90" cy="990.94" r="2.90" fill="#944560"/><line x1="133.70" y1="977.26" x2="102.10" y2="979.46" stroke="#944560" stroke-width="5.80"/><circle cx="133.70" cy="977.26" r="2.90" fill="#944560"/><circle cx="102.10" cy="979.46" r="2.90" fill="#944560"/><line x1="154.83" y1="1008.29" x2="188.83" y2="1004.29" stroke="#944560" stroke-width="5.80"/><circle cx="154.83" cy="1008.29" r="2.90" fill="#944560"/><circle cx="188.83" cy="1004.29" r="2.90" fill="#944560"/><line x1="156.17" y1="1019.71" x2="190.17" y2="1015.71" stroke="#944560" stroke-width="5.80"/><circle cx="156.17" cy="1019.71" r="2.90" fill="#944560"/><circle cx="190.17" cy="1015.71" r="2.90" fill="#944560"/><line x1="265.27" y1="992.19" x2="296.77" y2="974.39" stroke="#944560" stroke-width="5.80"/><circle cx="265.27" cy="992.19" r="2.90" fill="#944560"/><circle cx="296.77" cy="974.39" r="2.90" fill="#944560"/><line x1="270.93" y1="1002.21" x2="302.43" y2="984.41" stroke="#944560" stroke-width="5.80"/><circle cx="270.93" cy="1002.21" r="2.90" fill="#944560"/><circle cx="302.43" cy="984.41" r="2.90" fill="#944560"/><line x1="339.35" y1="997.20" x2="339.35" y2="1027.90" stroke="#944560" stroke-width="5.80"/><circle cx="339.35" cy="997.20" r="2.90" fill="#944560"/><circle cx="339.35" cy="1027.90" r="2.90" fill="#944560"/><line x1="327.85" y1="997.20" x2="327.85" y2="1027.90" stroke="#944560" stroke-width="5.80"/><circle cx="327.85" cy="997.20" r="2.90" fill="#944560"/><circle cx="327.85" cy="1027.90" r="2.90" fill="#944560"/><line x1="296.11" y1="1056.67" x2="268.61" y2="1035.67" stroke="#944560" stroke-width="5.80"/><circle cx="296.11" cy="1056.67" r="2.90" fill="#944560"/><circle cx="268.61" cy="1035.67" r="2.90" fill="#944560"/><line x1="303.09" y1="1047.53" x2="275.59" y2="1026.53" stroke="#944560" stroke-width="5.80"/><circle cx="303.09" cy="1047.53" r="2.90" fill="#944560"/><circle cx="275.59" cy="1026.53" r="2.90" fill="#944560"/><line x1="175.00" y1="1089.04" x2="174.90" y2="1106.19" stroke="#944560" stroke-width="5.80"/><line x1="174.90" y1="1106.19" x2="174.80" y2="1123.34" stroke="#c83a3a" stroke-width="5.80"/><circle cx="175.00" cy="1089.04" r="2.90" fill="#944560"/><circle cx="174.80" cy="1123.34" r="2.90" fill="#c83a3a"/><line x1="162.00" y1="1088.96" x2="161.90" y2="1106.11" stroke="#944560" stroke-width="5.80"/><line x1="161.90" y1="1106.11" x2="161.80" y2="1123.26" stroke="#c83a3a" stroke-width="5.80"/><circle cx="162.00" cy="1088.96" r="2.90" fill="#944560"/><circle cx="161.80" cy="1123.26" r="2.90" fill="#c83a3a"/><line x1="255.46" y1="1113.52" x2="245.96" y2="1128.27" stroke="#944560" stroke-width="5.80"/><line x1="245.96" y1="1128.27" x2="236.46" y2="1143.02" stroke="#c83a3a" stroke-width="5.80"/><circle cx="255.46" cy="1113.52" r="2.90" fill="#944560"/><circle cx="236.46" cy="1143.02" r="2.90" fill="#c83a3a"/><line x1="244.54" y1="1106.48" x2="235.04" y2="1121.23" stroke="#944560" stroke-width="5.80"/><line x1="235.04" y1="1121.23" x2="225.54" y2="1135.98" stroke="#c83a3a" stroke-width="5.80"/><circle cx="244.54" cy="1106.48" r="2.90" fill="#944560"/><circle cx="225.54" cy="1135.98" r="2.90" fill="#c83a3a"/><line x1="106.53" y1="926.04" x2="85.03" y2="954.54" stroke="#b95d79" stroke-width="3.60"/><circle cx="106.53" cy="926.04" r="1.80" fill="#b95d79"/><circle cx="85.03" cy="954.54" r="1.80" fill="#b95d79"/><line x1="97.35" y1="919.12" x2="75.85" y2="947.62" stroke="#b95d79" stroke-width="3.60"/><circle cx="97.35" cy="919.12" r="1.80" fill="#b95d79"/><circle cx="75.85" cy="947.62" r="1.80" fill="#b95d79"/><line x1="145.35" y1="920.61" x2="162.35" y2="952.31" stroke="#b95d79" stroke-width="3.60"/><circle cx="145.35" cy="920.61" r="1.80" fill="#b95d79"/><circle cx="162.35" cy="952.31" r="1.80" fill="#b95d79"/><line x1="135.22" y1="926.05" x2="152.22" y2="957.75" stroke="#b95d79" stroke-width="3.60"/><circle cx="135.22" cy="926.05" r="1.80" fill="#b95d79"/><circle cx="152.22" cy="957.75" r="1.80" fill="#b95d79"/><line x1="134.45" y1="988.04" x2="102.85" y2="990.24" stroke="#b95d79" stroke-width="3.60"/><circle cx="134.45" cy="988.04" r="1.80" fill="#b95d79"/><circle cx="102.85" cy="990.24" r="1.80" fill="#b95d79"/><line x1="133.65" y1="976.57" x2="102.05" y2="978.77" stroke="#b95d79" stroke-width="3.60"/><circle cx="133.65" cy="976.57" r="1.80" fill="#b95d79"/><circle cx="102.05" cy="978.77" r="1.80" fill="#b95d79"/><line x1="154.75" y1="1007.60" x2="188.75" y2="1003.60" stroke="#b95d79" stroke-width="3.60"/><circle cx="154.75" cy="1007.60" r="1.80" fill="#b95d79"/><circle cx="188.75" cy="1003.60" r="1.80" fill="#b95d79"/><line x1="156.09" y1="1019.02" x2="190.09" y2="1015.02" stroke="#b95d79" stroke-width="3.60"/><circle cx="156.09" cy="1019.02" r="1.80" fill="#b95d79"/><circle cx="190.09" cy="1015.02" r="1.80" fill="#b95d79"/><line x1="264.93" y1="991.59" x2="296.43" y2="973.79" stroke="#b95d79" stroke-width="3.60"/><circle cx="264.93" cy="991.59" r="1.80" fill="#b95d79"/><circle cx="296.43" cy="973.79" r="1.80" fill="#b95d79"/><line x1="270.59" y1="1001.60" x2="302.09" y2="983.80" stroke="#b95d79" stroke-width="3.60"/><circle cx="270.59" cy="1001.60" r="1.80" fill="#b95d79"/><circle cx="302.09" cy="983.80" r="1.80" fill="#b95d79"/><line x1="338.65" y1="997.20" x2="338.65" y2="1027.90" stroke="#b95d79" stroke-width="3.60"/><circle cx="338.65" cy="997.20" r="1.80" fill="#b95d79"/><circle cx="338.65" cy="1027.90" r="1.80" fill="#b95d79"/><line x1="327.15" y1="997.20" x2="327.15" y2="1027.90" stroke="#b95d79" stroke-width="3.60"/><circle cx="327.15" cy="997.20" r="1.80" fill="#b95d79"/><circle cx="327.15" cy="1027.90" r="1.80" fill="#b95d79"/><line x1="296.53" y1="1056.12" x2="269.03" y2="1035.12" stroke="#b95d79" stroke-width="3.60"/><circle cx="296.53" cy="1056.12" r="1.80" fill="#b95d79"/><circle cx="269.03" cy="1035.12" r="1.80" fill="#b95d79"/><line x1="303.51" y1="1046.98" x2="276.01" y2="1025.98" stroke="#b95d79" stroke-width="3.60"/><circle cx="303.51" cy="1046.98" r="1.80" fill="#b95d79"/><circle cx="276.01" cy="1025.98" r="1.80" fill="#b95d79"/><line x1="174.30" y1="1089.03" x2="174.20" y2="1106.18" stroke="#b95d79" stroke-width="3.60"/><line x1="174.20" y1="1106.18" x2="174.10" y2="1123.33" stroke="#f35656" stroke-width="3.60"/><circle cx="174.30" cy="1089.03" r="1.80" fill="#b95d79"/><circle cx="174.10" cy="1123.33" r="1.80" fill="#f35656"/><line x1="161.30" y1="1088.96" x2="161.20" y2="1106.11" stroke="#b95d79" stroke-width="3.60"/><line x1="161.20" y1="1106.11" x2="161.10" y2="1123.26" stroke="#f35656" stroke-width="3.60"/><circle cx="161.30" cy="1088.96" r="1.80" fill="#b95d79"/><circle cx="161.10" cy="1123.26" r="1.80" fill="#f35656"/><line x1="254.88" y1="1113.14" x2="245.38" y2="1127.89" stroke="#b95d79" stroke-width="3.60"/><line x1="245.38" y1="1127.89" x2="235.88" y2="1142.64" stroke="#f35656" stroke-width="3.60"/><circle cx="254.88" cy="1113.14" r="1.80" fill="#b95d79"/><circle cx="235.88" cy="1142.64" r="1.80" fill="#f35656"/><line x1="243.95" y1="1106.10" x2="234.45" y2="1120.85" stroke="#b95d79" stroke-width="3.60"/><line x1="234.45" y1="1120.85" x2="224.95" y2="1135.60" stroke="#f35656" stroke-width="3.60"/><circle cx="243.95" cy="1106.10" r="1.80" fill="#b95d79"/><circle cx="224.95" cy="1135.60" r="1.80" fill="#f35656"/><line x1="106.16" y1="925.76" x2="84.66" y2="954.26" stroke="#eaa0b8" stroke-width="1.28"/><line x1="96.98" y1="918.84" x2="75.48" y2="947.34" stroke="#eaa0b8" stroke-width="1.28"/><line x1="144.95" y1="920.83" x2="161.95" y2="952.53" stroke="#eaa0b8" stroke-width="1.28"/><line x1="134.81" y1="926.27" x2="151.81" y2="957.97" stroke="#eaa0b8" stroke-width="1.28"/><line x1="134.42" y1="987.58" x2="102.82" y2="989.78" stroke="#eaa0b8" stroke-width="1.28"/><line x1="133.62" y1="976.11" x2="102.02" y2="978.31" stroke="#eaa0b8" stroke-width="1.28"/><line x1="154.69" y1="1007.14" x2="188.69" y2="1003.14" stroke="#eaa0b8" stroke-width="1.28"/><line x1="156.04" y1="1018.56" x2="190.04" y2="1014.56" stroke="#eaa0b8" stroke-width="1.28"/><line x1="264.70" y1="991.18" x2="296.20" y2="973.38" stroke="#eaa0b8" stroke-width="1.28"/><line x1="270.36" y1="1001.20" x2="301.86" y2="983.40" stroke="#eaa0b8" stroke-width="1.28"/><line x1="338.19" y1="997.20" x2="338.19" y2="1027.90" stroke="#eaa0b8" stroke-width="1.28"/><line x1="326.69" y1="997.20" x2="326.69" y2="1027.90" stroke="#eaa0b8" stroke-width="1.28"/><line x1="296.81" y1="1055.75" x2="269.31" y2="1034.75" stroke="#eaa0b8" stroke-width="1.28"/><line x1="303.79" y1="1046.61" x2="276.29" y2="1025.61" stroke="#eaa0b8" stroke-width="1.28"/><line x1="173.84" y1="1089.03" x2="173.74" y2="1106.18" stroke="#eaa0b8" stroke-width="1.28"/><line x1="173.74" y1="1106.18" x2="173.64" y2="1123.33" stroke="#ffa8a8" stroke-width="1.28"/><line x1="160.84" y1="1088.96" x2="160.74" y2="1106.11" stroke="#eaa0b8" stroke-width="1.28"/><line x1="160.74" y1="1106.11" x2="160.64" y2="1123.26" stroke="#ffa8a8" stroke-width="1.28"/><line x1="254.49" y1="1112.89" x2="244.99" y2="1127.64" stroke="#eaa0b8" stroke-width="1.28"/><line x1="244.99" y1="1127.64" x2="235.49" y2="1142.39" stroke="#ffa8a8" stroke-width="1.28"/><line x1="243.56" y1="1105.85" x2="234.06" y2="1120.60" stroke="#eaa0b8" stroke-width="1.28"/><line x1="234.06" y1="1120.60" x2="224.56" y2="1135.35" stroke="#ffa8a8" stroke-width="1.28"/><line x1="47.00" y1="912.80" x2="63.95" y2="906.15" stroke="#3a1422" stroke-width="18.40"/><line x1="63.95" y1="906.15" x2="80.90" y2="899.50" stroke="#551515" stroke-width="18.40"/><line x1="47.00" y1="912.80" x2="49.25" y2="930.35" stroke="#3a1422" stroke-width="18.40"/><line x1="49.25" y1="930.35" x2="51.50" y2="947.90" stroke="#551515" stroke-width="18.40"/><line x1="80.90" y1="899.50" x2="91.70" y2="911.25" stroke="#551515" stroke-width="18.40"/><line x1="91.70" y1="911.25" x2="102.50" y2="923.00" stroke="#3a1422" stroke-width="18.40"/><line x1="51.50" y1="947.90" x2="66.25" y2="949.70" stroke="#551515" stroke-width="18.40"/><line x1="66.25" y1="949.70" x2="81.00" y2="951.50" stroke="#3a1422" stroke-width="18.40"/><line x1="102.50" y1="923.00" x2="140.90" y2="923.00" stroke="#3a1422" stroke-width="18.40"/><line x1="157.90" y1="954.70" x2="134.10" y2="983.00" stroke="#3a1422" stroke-width="18.40"/><line x1="102.50" y1="985.20" x2="81.00" y2="951.50" stroke="#3a1422" stroke-width="18.40"/><line x1="134.10" y1="983.00" x2="155.50" y2="1014.00" stroke="#3a1422" stroke-width="18.40"/><line x1="189.50" y1="1010.00" x2="207.00" y2="1040.50" stroke="#3a1422" stroke-width="18.40"/><line x1="207.00" y1="1040.50" x2="239.50" y2="1046.00" stroke="#3a1422" stroke-width="18.40"/><line x1="239.50" y1="1046.00" x2="233.50" y2="1082.50" stroke="#3a1422" stroke-width="18.40"/><line x1="233.50" y1="1082.50" x2="200.50" y2="1073.00" stroke="#3a1422" stroke-width="18.40"/><line x1="200.50" y1="1073.00" x2="207.00" y2="1040.50" stroke="#3a1422" stroke-width="18.40"/><line x1="239.50" y1="1046.00" x2="272.10" y2="1031.10" stroke="#3a1422" stroke-width="18.40"/><line x1="272.10" y1="1031.10" x2="268.10" y2="997.20" stroke="#3a1422" stroke-width="18.40"/><line x1="299.60" y1="979.40" x2="333.60" y2="997.20" stroke="#3a1422" stroke-width="18.40"/><line x1="333.60" y1="1027.90" x2="299.60" y2="1052.10" stroke="#3a1422" stroke-width="18.40"/><line x1="333.60" y1="997.20" x2="348.95" y2="992.35" stroke="#3a1422" stroke-width="18.40"/><line x1="348.95" y1="992.35" x2="364.30" y2="987.50" stroke="#551515" stroke-width="18.40"/><line x1="364.30" y1="987.50" x2="376.65" y2="1001.00" stroke="#551515" stroke-width="18.40"/><line x1="376.65" y1="1001.00" x2="389.00" y2="1014.50" stroke="#3a1422" stroke-width="18.40"/><line x1="389.00" y1="1014.50" x2="377.45" y2="1027.65" stroke="#3a1422" stroke-width="18.40"/><line x1="377.45" y1="1027.65" x2="365.90" y2="1040.80" stroke="#551515" stroke-width="18.40"/><line x1="365.90" y1="1040.80" x2="349.75" y2="1034.35" stroke="#551515" stroke-width="18.40"/><line x1="349.75" y1="1034.35" x2="333.60" y2="1027.90" stroke="#3a1422" stroke-width="18.40"/><line x1="200.50" y1="1073.00" x2="168.50" y2="1089.00" stroke="#3a1422" stroke-width="18.40"/><line x1="168.50" y1="1089.00" x2="153.30" y2="1081.85" stroke="#3a1422" stroke-width="18.40"/><line x1="153.30" y1="1081.85" x2="138.10" y2="1074.70" stroke="#0a0a50" stroke-width="18.40"/><line x1="138.10" y1="1074.70" x2="138.10" y2="1056.00" stroke="#0a0a50" stroke-width="18.40"/><line x1="138.10" y1="1056.00" x2="138.10" y2="1037.30" stroke="#3a1422" stroke-width="18.40"/><line x1="138.10" y1="1037.30" x2="108.70" y2="1022.60" stroke="#3a1422" stroke-width="18.40"/><line x1="108.70" y1="1022.60" x2="78.10" y2="1038.50" stroke="#3a1422" stroke-width="18.40"/><line x1="78.10" y1="1038.50" x2="78.10" y2="1070.20" stroke="#3a1422" stroke-width="18.40"/><line x1="78.10" y1="1070.20" x2="108.70" y2="1089.40" stroke="#3a1422" stroke-width="18.40"/><line x1="108.70" y1="1089.40" x2="123.40" y2="1082.05" stroke="#3a1422" stroke-width="18.40"/><line x1="123.40" y1="1082.05" x2="138.10" y2="1074.70" stroke="#0a0a50" stroke-width="18.40"/><line x1="233.50" y1="1082.50" x2="250.00" y2="1110.00" stroke="#3a1422" stroke-width="18.40"/><line x1="250.00" y1="1110.00" x2="265.10" y2="1110.15" stroke="#3a1422" stroke-width="18.40"/><line x1="265.10" y1="1110.15" x2="280.20" y2="1110.30" stroke="#0a0a50" stroke-width="18.40"/><line x1="280.20" y1="1110.30" x2="289.10" y2="1094.95" stroke="#0a0a50" stroke-width="18.40"/><line x1="289.10" y1="1094.95" x2="298.00" y2="1079.60" stroke="#3a1422" stroke-width="18.40"/><line x1="298.00" y1="1079.60" x2="336.80" y2="1079.60" stroke="#3a1422" stroke-width="18.40"/><line x1="336.80" y1="1079.60" x2="356.20" y2="1108.70" stroke="#3a1422" stroke-width="18.40"/><line x1="356.20" y1="1108.70" x2="338.40" y2="1141.00" stroke="#3a1422" stroke-width="18.40"/><line x1="338.40" y1="1141.00" x2="298.00" y2="1139.40" stroke="#3a1422" stroke-width="18.40"/><line x1="298.00" y1="1139.40" x2="289.10" y2="1124.85" stroke="#3a1422" stroke-width="18.40"/><line x1="289.10" y1="1124.85" x2="280.20" y2="1110.30" stroke="#0a0a50" stroke-width="18.40"/><circle cx="47.00" cy="912.80" r="9.20" fill="#3a1422"/><circle cx="80.90" cy="899.50" r="9.20" fill="#551515"/><circle cx="51.50" cy="947.90" r="9.20" fill="#551515"/><circle cx="102.50" cy="923.00" r="9.20" fill="#3a1422"/><circle cx="81.00" cy="951.50" r="9.20" fill="#3a1422"/><circle cx="140.90" cy="923.00" r="9.20" fill="#3a1422"/><circle cx="157.90" cy="954.70" r="9.20" fill="#3a1422"/><circle cx="134.10" cy="983.00" r="9.20" fill="#3a1422"/><circle cx="102.50" cy="985.20" r="9.20" fill="#3a1422"/><circle cx="155.50" cy="1014.00" r="9.20" fill="#3a1422"/><circle cx="189.50" cy="1010.00" r="9.20" fill="#3a1422"/><circle cx="207.00" cy="1040.50" r="9.20" fill="#3a1422"/><circle cx="239.50" cy="1046.00" r="9.20" fill="#3a1422"/><circle cx="233.50" cy="1082.50" r="9.20" fill="#3a1422"/><circle cx="200.50" cy="1073.00" r="9.20" fill="#3a1422"/><circle cx="272.10" cy="1031.10" r="9.20" fill="#3a1422"/><circle cx="268.10" cy="997.20" r="9.20" fill="#3a1422"/><circle cx="299.60" cy="979.40" r="9.20" fill="#3a1422"/><circle cx="333.60" cy="997.20" r="9.20" fill="#3a1422"/><circle cx="333.60" cy="1027.90" r="9.20" fill="#3a1422"/><circle cx="299.60" cy="1052.10" r="9.20" fill="#3a1422"/><circle cx="364.30" cy="987.50" r="9.20" fill="#551515"/><circle cx="389.00" cy="1014.50" r="9.20" fill="#3a1422"/><circle cx="365.90" cy="1040.80" r="9.20" fill="#551515"/><circle cx="168.50" cy="1089.00" r="9.20" fill="#3a1422"/><circle cx="138.10" cy="1074.70" r="9.20" fill="#0a0a50"/><circle cx="138.10" cy="1037.30" r="9.20" fill="#3a1422"/><circle cx="108.70" cy="1022.60" r="9.20" fill="#3a1422"/><circle cx="78.10" cy="1038.50" r="9.20" fill="#3a1422"/><circle cx="78.10" cy="1070.20" r="9.20" fill="#3a1422"/><circle cx="108.70" cy="1089.40" r="9.20" fill="#3a1422"/><circle cx="250.00" cy="1110.00" r="9.20" fill="#3a1422"/><circle cx="280.20" cy="1110.30" r="9.20" fill="#0a0a50"/><circle cx="298.00" cy="1079.60" r="9.20" fill="#3a1422"/><circle cx="336.80" cy="1079.60" r="9.20" fill="#3a1422"/><circle cx="356.20" cy="1108.70" r="9.20" fill="#3a1422"/><circle cx="338.40" cy="1141.00" r="9.20" fill="#3a1422"/><circle cx="298.00" cy="1139.40" r="9.20" fill="#3a1422"/><line x1="47.00" y1="912.80" x2="63.95" y2="906.15" stroke="#944560" stroke-width="16.00"/><line x1="63.95" y1="906.15" x2="80.90" y2="899.50" stroke="#c83a3a" stroke-width="16.00"/><line x1="47.00" y1="912.80" x2="49.25" y2="930.35" stroke="#944560" stroke-width="16.00"/><line x1="49.25" y1="930.35" x2="51.50" y2="947.90" stroke="#c83a3a" stroke-width="16.00"/><line x1="80.90" y1="899.50" x2="91.70" y2="911.25" stroke="#c83a3a" stroke-width="16.00"/><line x1="91.70" y1="911.25" x2="102.50" y2="923.00" stroke="#944560" stroke-width="16.00"/><line x1="51.50" y1="947.90" x2="66.25" y2="949.70" stroke="#c83a3a" stroke-width="16.00"/><line x1="66.25" y1="949.70" x2="81.00" y2="951.50" stroke="#944560" stroke-width="16.00"/><line x1="102.50" y1="923.00" x2="140.90" y2="923.00" stroke="#944560" stroke-width="16.00"/><line x1="157.90" y1="954.70" x2="134.10" y2="983.00" stroke="#944560" stroke-width="16.00"/><line x1="102.50" y1="985.20" x2="81.00" y2="951.50" stroke="#944560" stroke-width="16.00"/><line x1="134.10" y1="983.00" x2="155.50" y2="1014.00" stroke="#944560" stroke-width="16.00"/><line x1="189.50" y1="1010.00" x2="207.00" y2="1040.50" stroke="#944560" stroke-width="16.00"/><line x1="207.00" y1="1040.50" x2="239.50" y2="1046.00" stroke="#944560" stroke-width="16.00"/><line x1="239.50" y1="1046.00" x2="233.50" y2="1082.50" stroke="#944560" stroke-width="16.00"/><line x1="233.50" y1="1082.50" x2="200.50" y2="1073.00" stroke="#944560" stroke-width="16.00"/><line x1="200.50" y1="1073.00" x2="207.00" y2="1040.50" stroke="#944560" stroke-width="16.00"/><line x1="239.50" y1="1046.00" x2="272.10" y2="1031.10" stroke="#944560" stroke-width="16.00"/><line x1="272.10" y1="1031.10" x2="268.10" y2="997.20" stroke="#944560" stroke-width="16.00"/><line x1="299.60" y1="979.40" x2="333.60" y2="997.20" stroke="#944560" stroke-width="16.00"/><line x1="333.60" y1="1027.90" x2="299.60" y2="1052.10" stroke="#944560" stroke-width="16.00"/><line x1="333.60" y1="997.20" x2="348.95" y2="992.35" stroke="#944560" stroke-width="16.00"/><line x1="348.95" y1="992.35" x2="364.30" y2="987.50" stroke="#c83a3a" stroke-width="16.00"/><line x1="364.30" y1="987.50" x2="376.65" y2="1001.00" stroke="#c83a3a" stroke-width="16.00"/><line x1="376.65" y1="1001.00" x2="389.00" y2="1014.50" stroke="#944560" stroke-width="16.00"/><line x1="389.00" y1="1014.50" x2="377.45" y2="1027.65" stroke="#944560" stroke-width="16.00"/><line x1="377.45" y1="1027.65" x2="365.90" y2="1040.80" stroke="#c83a3a" stroke-width="16.00"/><line x1="365.90" y1="1040.80" x2="349.75" y2="1034.35" stroke="#c83a3a" stroke-width="16.00"/><line x1="349.75" y1="1034.35" x2="333.60" y2="1027.90" stroke="#944560" stroke-width="16.00"/><line x1="200.50" y1="1073.00" x2="168.50" y2="1089.00" stroke="#944560" stroke-width="16.00"/><line x1="168.50" y1="1089.00" x2="153.30" y2="1081.85" stroke="#944560" stroke-width="16.00"/><line x1="153.30" y1="1081.85" x2="138.10" y2="1074.70" stroke="#2222b8" stroke-width="16.00"/><line x1="138.10" y1="1074.70" x2="138.10" y2="1056.00" stroke="#2222b8" stroke-width="16.00"/><line x1="138.10" y1="1056.00" x2="138.10" y2="1037.30" stroke="#944560" stroke-width="16.00"/><line x1="138.10" y1="1037.30" x2="108.70" y2="1022.60" stroke="#944560" stroke-width="16.00"/><line x1="108.70" y1="1022.60" x2="78.10" y2="1038.50" stroke="#944560" stroke-width="16.00"/><line x1="78.10" y1="1038.50" x2="78.10" y2="1070.20" stroke="#944560" stroke-width="16.00"/><line x1="78.10" y1="1070.20" x2="108.70" y2="1089.40" stroke="#944560" stroke-width="16.00"/><line x1="108.70" y1="1089.40" x2="123.40" y2="1082.05" stroke="#944560" stroke-width="16.00"/><line x1="123.40" y1="1082.05" x2="138.10" y2="1074.70" stroke="#2222b8" stroke-width="16.00"/><line x1="233.50" y1="1082.50" x2="250.00" y2="1110.00" stroke="#944560" stroke-width="16.00"/><line x1="250.00" y1="1110.00" x2="265.10" y2="1110.15" stroke="#944560" stroke-width="16.00"/><line x1="265.10" y1="1110.15" x2="280.20" y2="1110.30" stroke="#2222b8" stroke-width="16.00"/><line x1="280.20" y1="1110.30" x2="289.10" y2="1094.95" stroke="#2222b8" stroke-width="16.00"/><line x1="289.10" y1="1094.95" x2="298.00" y2="1079.60" stroke="#944560" stroke-width="16.00"/><line x1="298.00" y1="1079.60" x2="336.80" y2="1079.60" stroke="#944560" stroke-width="16.00"/><line x1="336.80" y1="1079.60" x2="356.20" y2="1108.70" stroke="#944560" stroke-width="16.00"/><line x1="356.20" y1="1108.70" x2="338.40" y2="1141.00" stroke="#944560" stroke-width="16.00"/><line x1="338.40" y1="1141.00" x2="298.00" y2="1139.40" stroke="#944560" stroke-width="16.00"/><line x1="298.00" y1="1139.40" x2="289.10" y2="1124.85" stroke="#944560" stroke-width="16.00"/><line x1="289.10" y1="1124.85" x2="280.20" y2="1110.30" stroke="#2222b8" stroke-width="16.00"/><circle cx="47.00" cy="912.80" r="8.00" fill="#944560"/><circle cx="80.90" cy="899.50" r="8.00" fill="#c83a3a"/><circle cx="51.50" cy="947.90" r="8.00" fill="#c83a3a"/><circle cx="102.50" cy="923.00" r="8.00" fill="#944560"/><circle cx="81.00" cy="951.50" r="8.00" fill="#944560"/><circle cx="140.90" cy="923.00" r="8.00" fill="#944560"/><circle cx="157.90" cy="954.70" r="8.00" fill="#944560"/><circle cx="134.10" cy="983.00" r="8.00" fill="#944560"/><circle cx="102.50" cy="985.20" r="8.00" fill="#944560"/><circle cx="155.50" cy="1014.00" r="8.00" fill="#944560"/><circle cx="189.50" cy="1010.00" r="8.00" fill="#944560"/><circle cx="207.00" cy="1040.50" r="8.00" fill="#944560"/><circle cx="239.50" cy="1046.00" r="8.00" fill="#944560"/><circle cx="233.50" cy="1082.50" r="8.00" fill="#944560"/><circle cx="200.50" cy="1073.00" r="8.00" fill="#944560"/><circle cx="272.10" cy="1031.10" r="8.00" fill="#944560"/><circle cx="268.10" cy="997.20" r="8.00" fill="#944560"/><circle cx="299.60" cy="979.40" r="8.00" fill="#944560"/><circle cx="333.60" cy="997.20" r="8.00" fill="#944560"/><circle cx="333.60" cy="1027.90" r="8.00" fill="#944560"/><circle cx="299.60" cy="1052.10" r="8.00" fill="#944560"/><circle cx="364.30" cy="987.50" r="8.00" fill="#c83a3a"/><circle cx="389.00" cy="1014.50" r="8.00" fill="#944560"/><circle cx="365.90" cy="1040.80" r="8.00" fill="#c83a3a"/><circle cx="168.50" cy="1089.00" r="8.00" fill="#944560"/><circle cx="138.10" cy="1074.70" r="8.00" fill="#2222b8"/><circle cx="138.10" cy="1037.30" r="8.00" fill="#944560"/><circle cx="108.70" cy="1022.60" r="8.00" fill="#944560"/><circle cx="78.10" cy="1038.50" r="8.00" fill="#944560"/><circle cx="78.10" cy="1070.20" r="8.00" fill="#944560"/><circle cx="108.70" cy="1089.40" r="8.00" fill="#944560"/><circle cx="250.00" cy="1110.00" r="8.00" fill="#944560"/><circle cx="280.20" cy="1110.30" r="8.00" fill="#2222b8"/><circle cx="298.00" cy="1079.60" r="8.00" fill="#944560"/><circle cx="336.80" cy="1079.60" r="8.00" fill="#944560"/><circle cx="356.20" cy="1108.70" r="8.00" fill="#944560"/><circle cx="338.40" cy="1141.00" r="8.00" fill="#944560"/><circle cx="298.00" cy="1139.40" r="8.00" fill="#944560"/><line x1="46.42" y1="911.31" x2="63.37" y2="904.66" stroke="#b95d79" stroke-width="10.56"/><line x1="63.37" y1="904.66" x2="80.32" y2="898.01" stroke="#f35656" stroke-width="10.56"/><line x1="45.41" y1="913.00" x2="47.66" y2="930.55" stroke="#b95d79" stroke-width="10.56"/><line x1="47.66" y1="930.55" x2="49.91" y2="948.10" stroke="#f35656" stroke-width="10.56"/><line x1="82.08" y1="898.42" x2="92.88" y2="910.17" stroke="#f35656" stroke-width="10.56"/><line x1="92.88" y1="910.17" x2="103.68" y2="921.92" stroke="#b95d79" stroke-width="10.56"/><line x1="51.69" y1="946.31" x2="66.44" y2="948.11" stroke="#f35656" stroke-width="10.56"/><line x1="66.44" y1="948.11" x2="81.19" y2="949.91" stroke="#b95d79" stroke-width="10.56"/><line x1="102.50" y1="921.40" x2="140.90" y2="921.40" stroke="#b95d79" stroke-width="10.56"/><line x1="156.68" y1="953.67" x2="132.88" y2="981.97" stroke="#b95d79" stroke-width="10.56"/><line x1="101.15" y1="986.06" x2="79.65" y2="952.36" stroke="#b95d79" stroke-width="10.56"/><line x1="135.42" y1="982.09" x2="156.82" y2="1013.09" stroke="#b95d79" stroke-width="10.56"/><line x1="188.11" y1="1010.80" x2="205.61" y2="1041.30" stroke="#b95d79" stroke-width="10.56"/><line x1="207.27" y1="1038.92" x2="239.77" y2="1044.42" stroke="#b95d79" stroke-width="10.56"/><line x1="237.92" y1="1045.74" x2="231.92" y2="1082.24" stroke="#b95d79" stroke-width="10.56"/><line x1="233.94" y1="1080.96" x2="200.94" y2="1071.46" stroke="#b95d79" stroke-width="10.56"/><line x1="198.93" y1="1072.69" x2="205.43" y2="1040.19" stroke="#b95d79" stroke-width="10.56"/><line x1="238.83" y1="1044.54" x2="271.43" y2="1029.64" stroke="#b95d79" stroke-width="10.56"/><line x1="270.51" y1="1031.29" x2="266.51" y2="997.39" stroke="#b95d79" stroke-width="10.56"/><line x1="300.34" y1="977.98" x2="334.34" y2="995.78" stroke="#b95d79" stroke-width="10.56"/><line x1="332.67" y1="1026.60" x2="298.67" y2="1050.80" stroke="#b95d79" stroke-width="10.56"/><line x1="333.12" y1="995.67" x2="348.47" y2="990.82" stroke="#b95d79" stroke-width="10.56"/><line x1="348.47" y1="990.82" x2="363.82" y2="985.97" stroke="#f35656" stroke-width="10.56"/><line x1="365.48" y1="986.42" x2="377.83" y2="999.92" stroke="#f35656" stroke-width="10.56"/><line x1="377.83" y1="999.92" x2="390.18" y2="1013.42" stroke="#b95d79" stroke-width="10.56"/><line x1="387.80" y1="1013.44" x2="376.25" y2="1026.59" stroke="#b95d79" stroke-width="10.56"/><line x1="376.25" y1="1026.59" x2="364.70" y2="1039.74" stroke="#f35656" stroke-width="10.56"/><line x1="366.49" y1="1039.31" x2="350.34" y2="1032.86" stroke="#f35656" stroke-width="10.56"/><line x1="350.34" y1="1032.86" x2="334.19" y2="1026.41" stroke="#b95d79" stroke-width="10.56"/><line x1="199.78" y1="1071.57" x2="167.78" y2="1087.57" stroke="#b95d79" stroke-width="10.56"/><line x1="169.18" y1="1087.55" x2="153.98" y2="1080.40" stroke="#b95d79" stroke-width="10.56"/><line x1="153.98" y1="1080.40" x2="138.78" y2="1073.25" stroke="#3b3bf2" stroke-width="10.56"/><line x1="136.50" y1="1074.70" x2="136.50" y2="1056.00" stroke="#3b3bf2" stroke-width="10.56"/><line x1="136.50" y1="1056.00" x2="136.50" y2="1037.30" stroke="#b95d79" stroke-width="10.56"/><line x1="138.82" y1="1035.87" x2="109.42" y2="1021.17" stroke="#b95d79" stroke-width="10.56"/><line x1="107.96" y1="1021.18" x2="77.36" y2="1037.08" stroke="#b95d79" stroke-width="10.56"/><line x1="76.50" y1="1038.50" x2="76.50" y2="1070.20" stroke="#b95d79" stroke-width="10.56"/><line x1="78.95" y1="1068.84" x2="109.55" y2="1088.04" stroke="#b95d79" stroke-width="10.56"/><line x1="107.98" y1="1087.97" x2="122.68" y2="1080.62" stroke="#b95d79" stroke-width="10.56"/><line x1="122.68" y1="1080.62" x2="137.38" y2="1073.27" stroke="#3b3bf2" stroke-width="10.56"/><line x1="232.13" y1="1083.32" x2="248.63" y2="1110.82" stroke="#b95d79" stroke-width="10.56"/><line x1="250.02" y1="1108.40" x2="265.12" y2="1108.55" stroke="#b95d79" stroke-width="10.56"/><line x1="265.12" y1="1108.55" x2="280.22" y2="1108.70" stroke="#3b3bf2" stroke-width="10.56"/><line x1="278.82" y1="1109.50" x2="287.72" y2="1094.15" stroke="#3b3bf2" stroke-width="10.56"/><line x1="287.72" y1="1094.15" x2="296.62" y2="1078.80" stroke="#b95d79" stroke-width="10.56"/><line x1="298.00" y1="1078.00" x2="336.80" y2="1078.00" stroke="#b95d79" stroke-width="10.56"/><line x1="338.13" y1="1078.71" x2="357.53" y2="1107.81" stroke="#b95d79" stroke-width="10.56"/><line x1="354.80" y1="1107.93" x2="337.00" y2="1140.23" stroke="#b95d79" stroke-width="10.56"/><line x1="338.46" y1="1139.40" x2="298.06" y2="1137.80" stroke="#b95d79" stroke-width="10.56"/><line x1="296.64" y1="1140.23" x2="287.74" y2="1125.68" stroke="#b95d79" stroke-width="10.56"/><line x1="287.74" y1="1125.68" x2="278.84" y2="1111.13" stroke="#3b3bf2" stroke-width="10.56"/><circle cx="46.38" cy="911.87" r="5.76" fill="#b95d79"/><circle cx="80.28" cy="898.57" r="5.76" fill="#f35656"/><circle cx="50.88" cy="946.97" r="5.76" fill="#f35656"/><circle cx="101.88" cy="922.07" r="5.76" fill="#b95d79"/><circle cx="80.38" cy="950.57" r="5.76" fill="#b95d79"/><circle cx="140.28" cy="922.07" r="5.76" fill="#b95d79"/><circle cx="157.28" cy="953.77" r="5.76" fill="#b95d79"/><circle cx="133.48" cy="982.07" r="5.76" fill="#b95d79"/><circle cx="101.88" cy="984.27" r="5.76" fill="#b95d79"/><circle cx="154.88" cy="1013.07" r="5.76" fill="#b95d79"/><circle cx="188.88" cy="1009.07" r="5.76" fill="#b95d79"/><circle cx="206.38" cy="1039.57" r="5.76" fill="#b95d79"/><circle cx="238.88" cy="1045.07" r="5.76" fill="#b95d79"/><circle cx="232.88" cy="1081.57" r="5.76" fill="#b95d79"/><circle cx="199.88" cy="1072.07" r="5.76" fill="#b95d79"/><circle cx="271.48" cy="1030.17" r="5.76" fill="#b95d79"/><circle cx="267.48" cy="996.27" r="5.76" fill="#b95d79"/><circle cx="298.98" cy="978.47" r="5.76" fill="#b95d79"/><circle cx="332.98" cy="996.27" r="5.76" fill="#b95d79"/><circle cx="332.98" cy="1026.97" r="5.76" fill="#b95d79"/><circle cx="298.98" cy="1051.17" r="5.76" fill="#b95d79"/><circle cx="363.68" cy="986.57" r="5.76" fill="#f35656"/><circle cx="388.38" cy="1013.57" r="5.76" fill="#b95d79"/><circle cx="365.28" cy="1039.87" r="5.76" fill="#f35656"/><circle cx="167.88" cy="1088.07" r="5.76" fill="#b95d79"/><circle cx="137.48" cy="1073.77" r="5.76" fill="#3b3bf2"/><circle cx="137.48" cy="1036.37" r="5.76" fill="#b95d79"/><circle cx="108.08" cy="1021.67" r="5.76" fill="#b95d79"/><circle cx="77.48" cy="1037.57" r="5.76" fill="#b95d79"/><circle cx="77.48" cy="1069.27" r="5.76" fill="#b95d79"/><circle cx="108.08" cy="1088.47" r="5.76" fill="#b95d79"/><circle cx="249.38" cy="1109.07" r="5.76" fill="#b95d79"/><circle cx="279.58" cy="1109.37" r="5.76" fill="#3b3bf2"/><circle cx="297.38" cy="1078.67" r="5.76" fill="#b95d79"/><circle cx="336.18" cy="1078.67" r="5.76" fill="#b95d79"/><circle cx="355.58" cy="1107.77" r="5.76" fill="#b95d79"/><circle cx="337.78" cy="1140.07" r="5.76" fill="#b95d79"/><circle cx="297.38" cy="1138.47" r="5.76" fill="#b95d79"/><line x1="45.83" y1="909.82" x2="62.78" y2="903.17" stroke="#eaa0b8" stroke-width="2.88"/><line x1="62.78" y1="903.17" x2="79.73" y2="896.52" stroke="#ffa8a8" stroke-width="2.88"/><line x1="43.83" y1="913.21" x2="46.08" y2="930.76" stroke="#eaa0b8" stroke-width="2.88"/><line x1="46.08" y1="930.76" x2="48.33" y2="948.31" stroke="#ffa8a8" stroke-width="2.88"/><line x1="83.26" y1="897.33" x2="94.06" y2="909.08" stroke="#ffa8a8" stroke-width="2.88"/><line x1="94.06" y1="909.08" x2="104.86" y2="920.83" stroke="#eaa0b8" stroke-width="2.88"/><line x1="51.89" y1="944.72" x2="66.64" y2="946.52" stroke="#ffa8a8" stroke-width="2.88"/><line x1="66.64" y1="946.52" x2="81.39" y2="948.32" stroke="#eaa0b8" stroke-width="2.88"/><line x1="102.50" y1="919.80" x2="140.90" y2="919.80" stroke="#eaa0b8" stroke-width="2.88"/><line x1="155.45" y1="952.64" x2="131.65" y2="980.94" stroke="#eaa0b8" stroke-width="2.88"/><line x1="99.80" y1="986.92" x2="78.30" y2="953.22" stroke="#eaa0b8" stroke-width="2.88"/><line x1="136.73" y1="981.18" x2="158.13" y2="1012.18" stroke="#eaa0b8" stroke-width="2.88"/><line x1="186.72" y1="1011.59" x2="204.22" y2="1042.09" stroke="#eaa0b8" stroke-width="2.88"/><line x1="207.53" y1="1037.34" x2="240.03" y2="1042.84" stroke="#eaa0b8" stroke-width="2.88"/><line x1="236.34" y1="1045.48" x2="230.34" y2="1081.98" stroke="#eaa0b8" stroke-width="2.88"/><line x1="234.39" y1="1079.42" x2="201.39" y2="1069.92" stroke="#eaa0b8" stroke-width="2.88"/><line x1="197.36" y1="1072.37" x2="203.86" y2="1039.87" stroke="#eaa0b8" stroke-width="2.88"/><line x1="238.17" y1="1043.09" x2="270.77" y2="1028.19" stroke="#eaa0b8" stroke-width="2.88"/><line x1="268.92" y1="1031.47" x2="264.92" y2="997.57" stroke="#eaa0b8" stroke-width="2.88"/><line x1="301.08" y1="976.57" x2="335.08" y2="994.37" stroke="#eaa0b8" stroke-width="2.88"/><line x1="331.74" y1="1025.29" x2="297.74" y2="1049.49" stroke="#eaa0b8" stroke-width="2.88"/><line x1="332.64" y1="994.15" x2="347.99" y2="989.30" stroke="#eaa0b8" stroke-width="2.88"/><line x1="347.99" y1="989.30" x2="363.34" y2="984.45" stroke="#ffa8a8" stroke-width="2.88"/><line x1="366.66" y1="985.34" x2="379.01" y2="998.84" stroke="#ffa8a8" stroke-width="2.88"/><line x1="379.01" y1="998.84" x2="391.36" y2="1012.34" stroke="#eaa0b8" stroke-width="2.88"/><line x1="386.60" y1="1012.39" x2="375.05" y2="1025.54" stroke="#eaa0b8" stroke-width="2.88"/><line x1="375.05" y1="1025.54" x2="363.50" y2="1038.69" stroke="#ffa8a8" stroke-width="2.88"/><line x1="367.09" y1="1037.83" x2="350.94" y2="1031.38" stroke="#ffa8a8" stroke-width="2.88"/><line x1="350.94" y1="1031.38" x2="334.79" y2="1024.93" stroke="#eaa0b8" stroke-width="2.88"/><line x1="199.07" y1="1070.14" x2="167.07" y2="1086.14" stroke="#eaa0b8" stroke-width="2.88"/><line x1="169.86" y1="1086.10" x2="154.66" y2="1078.95" stroke="#eaa0b8" stroke-width="2.88"/><line x1="154.66" y1="1078.95" x2="139.46" y2="1071.80" stroke="#8c8cff" stroke-width="2.88"/><line x1="134.90" y1="1074.70" x2="134.90" y2="1056.00" stroke="#8c8cff" stroke-width="2.88"/><line x1="134.90" y1="1056.00" x2="134.90" y2="1037.30" stroke="#eaa0b8" stroke-width="2.88"/><line x1="139.53" y1="1034.44" x2="110.13" y2="1019.74" stroke="#eaa0b8" stroke-width="2.88"/><line x1="107.22" y1="1019.76" x2="76.62" y2="1035.66" stroke="#eaa0b8" stroke-width="2.88"/><line x1="74.90" y1="1038.50" x2="74.90" y2="1070.20" stroke="#eaa0b8" stroke-width="2.88"/><line x1="79.80" y1="1067.49" x2="110.40" y2="1086.69" stroke="#eaa0b8" stroke-width="2.88"/><line x1="107.27" y1="1086.54" x2="121.97" y2="1079.19" stroke="#eaa0b8" stroke-width="2.88"/><line x1="121.97" y1="1079.19" x2="136.67" y2="1071.84" stroke="#8c8cff" stroke-width="2.88"/><line x1="230.76" y1="1084.15" x2="247.26" y2="1111.65" stroke="#eaa0b8" stroke-width="2.88"/><line x1="250.03" y1="1106.80" x2="265.13" y2="1106.95" stroke="#eaa0b8" stroke-width="2.88"/><line x1="265.13" y1="1106.95" x2="280.23" y2="1107.10" stroke="#8c8cff" stroke-width="2.88"/><line x1="277.43" y1="1108.69" x2="286.33" y2="1093.34" stroke="#8c8cff" stroke-width="2.88"/><line x1="286.33" y1="1093.34" x2="295.23" y2="1077.99" stroke="#eaa0b8" stroke-width="2.88"/><line x1="298.00" y1="1076.40" x2="336.80" y2="1076.40" stroke="#eaa0b8" stroke-width="2.88"/><line x1="339.46" y1="1077.82" x2="358.86" y2="1106.92" stroke="#eaa0b8" stroke-width="2.88"/><line x1="353.40" y1="1107.16" x2="335.60" y2="1139.46" stroke="#eaa0b8" stroke-width="2.88"/><line x1="338.53" y1="1137.80" x2="298.13" y2="1136.20" stroke="#eaa0b8" stroke-width="2.88"/><line x1="295.27" y1="1141.07" x2="286.37" y2="1126.52" stroke="#eaa0b8" stroke-width="2.88"/><line x1="286.37" y1="1126.52" x2="277.47" y2="1111.97" stroke="#8c8cff" stroke-width="2.88"/>
<line x1="993.10" y1="958.80" x2="993.10" y2="992.40" stroke="#0a4a4a" stroke-width="8.00"/><circle cx="993.10" cy="958.80" r="4.00" fill="#0a4a4a"/><circle cx="993.10" cy="992.40" r="4.00" fill="#0a4a4a"/><line x1="981.10" y1="958.80" x2="981.10" y2="992.40" stroke="#0a4a4a" stroke-width="8.00"/><circle cx="981.10" cy="958.80" r="4.00" fill="#0a4a4a"/><circle cx="981.10" cy="992.40" r="4.00" fill="#0a4a4a"/><line x1="1021.32" y1="931.74" x2="1049.82" y2="949.84" stroke="#0a4a4a" stroke-width="8.00"/><circle cx="1021.32" cy="931.74" r="4.00" fill="#0a4a4a"/><circle cx="1049.82" cy="949.84" r="4.00" fill="#0a4a4a"/><line x1="1014.88" y1="941.86" x2="1043.38" y2="959.96" stroke="#0a4a4a" stroke-width="8.00"/><circle cx="1014.88" cy="941.86" r="4.00" fill="#0a4a4a"/><circle cx="1043.38" cy="959.96" r="4.00" fill="#0a4a4a"/><line x1="1050.13" y1="997.25" x2="1021.63" y2="1017.95" stroke="#0a4a4a" stroke-width="8.00"/><circle cx="1050.13" cy="997.25" r="4.00" fill="#0a4a4a"/><circle cx="1021.63" cy="1017.95" r="4.00" fill="#0a4a4a"/><line x1="1043.07" y1="987.55" x2="1014.57" y2="1008.25" stroke="#0a4a4a" stroke-width="8.00"/><circle cx="1043.07" cy="987.55" r="4.00" fill="#0a4a4a"/><circle cx="1014.57" cy="1008.25" r="4.00" fill="#0a4a4a"/><line x1="1097.50" y1="1070.68" x2="1069.90" y2="1053.28" stroke="#0a4a4a" stroke-width="8.00"/><circle cx="1097.50" cy="1070.68" r="4.00" fill="#0a4a4a"/><circle cx="1069.90" cy="1053.28" r="4.00" fill="#0a4a4a"/><line x1="1103.90" y1="1060.52" x2="1076.30" y2="1043.12" stroke="#0a4a4a" stroke-width="8.00"/><circle cx="1103.90" cy="1060.52" r="4.00" fill="#0a4a4a"/><circle cx="1076.30" cy="1043.12" r="4.00" fill="#0a4a4a"/><line x1="1163.85" y1="986.90" x2="1188.35" y2="1007.40" stroke="#0a4a4a" stroke-width="8.00"/><circle cx="1163.85" cy="986.90" r="4.00" fill="#0a4a4a"/><circle cx="1188.35" cy="1007.40" r="4.00" fill="#0a4a4a"/><line x1="1156.15" y1="996.10" x2="1180.65" y2="1016.60" stroke="#0a4a4a" stroke-width="8.00"/><circle cx="1156.15" cy="996.10" r="4.00" fill="#0a4a4a"/><circle cx="1180.65" cy="1016.60" r="4.00" fill="#0a4a4a"/><line x1="1209.76" y1="947.93" x2="1237.96" y2="931.33" stroke="#0a4a4a" stroke-width="8.00"/><circle cx="1209.76" cy="947.93" r="4.00" fill="#0a4a4a"/><circle cx="1237.96" cy="931.33" r="4.00" fill="#0a4a4a"/><line x1="1215.84" y1="958.27" x2="1244.04" y2="941.67" stroke="#0a4a4a" stroke-width="8.00"/><circle cx="1215.84" cy="958.27" r="4.00" fill="#0a4a4a"/><circle cx="1244.04" cy="941.67" r="4.00" fill="#0a4a4a"/><line x1="1278.10" y1="957.00" x2="1278.10" y2="988.10" stroke="#0a4a4a" stroke-width="8.00"/><circle cx="1278.10" cy="957.00" r="4.00" fill="#0a4a4a"/><circle cx="1278.10" cy="988.10" r="4.00" fill="#0a4a4a"/><line x1="1266.10" y1="957.00" x2="1266.10" y2="988.10" stroke="#0a4a4a" stroke-width="8.00"/><circle cx="1266.10" cy="957.00" r="4.00" fill="#0a4a4a"/><circle cx="1266.10" cy="988.10" r="4.00" fill="#0a4a4a"/><line x1="1236.99" y1="1017.87" x2="1208.79" y2="992.57" stroke="#0a4a4a" stroke-width="8.00"/><circle cx="1236.99" cy="1017.87" r="4.00" fill="#0a4a4a"/><circle cx="1208.79" cy="992.57" r="4.00" fill="#0a4a4a"/><line x1="1245.01" y1="1008.93" x2="1216.81" y2="983.63" stroke="#0a4a4a" stroke-width="8.00"/><circle cx="1245.01" cy="1008.93" r="4.00" fill="#0a4a4a"/><circle cx="1216.81" cy="983.63" r="4.00" fill="#0a4a4a"/><line x1="1099.85" y1="961.35" x2="1084.95" y2="952.95" stroke="#0a4a4a" stroke-width="8.00"/><line x1="1084.95" y1="952.95" x2="1070.05" y2="944.55" stroke="#551515" stroke-width="8.00"/><circle cx="1099.85" cy="961.35" r="4.00" fill="#0a4a4a"/><circle cx="1070.05" cy="944.55" r="4.00" fill="#551515"/><line x1="1105.55" y1="951.25" x2="1090.65" y2="942.85" stroke="#0a4a4a" stroke-width="8.00"/><line x1="1090.65" y1="942.85" x2="1075.75" y2="934.45" stroke="#551515" stroke-width="8.00"/><circle cx="1105.55" cy="951.25" r="4.00" fill="#0a4a4a"/><circle cx="1075.75" cy="934.45" r="4.00" fill="#551515"/><line x1="1156.45" y1="1060.44" x2="1169.90" y2="1050.14" stroke="#0a4a4a" stroke-width="8.00"/><line x1="1169.90" y1="1050.14" x2="1183.35" y2="1039.84" stroke="#551515" stroke-width="8.00"/><circle cx="1156.45" cy="1060.44" r="4.00" fill="#0a4a4a"/><circle cx="1183.35" cy="1039.84" r="4.00" fill="#551515"/><line x1="1164.35" y1="1070.76" x2="1177.80" y2="1060.46" stroke="#0a4a4a" stroke-width="8.00"/><line x1="1177.80" y1="1060.46" x2="1191.25" y2="1050.16" stroke="#551515" stroke-width="8.00"/><circle cx="1164.35" cy="1070.76" r="4.00" fill="#0a4a4a"/><circle cx="1191.25" cy="1050.16" r="4.00" fill="#551515"/><line x1="993.10" y1="958.80" x2="993.10" y2="992.40" stroke="#1ccaca" stroke-width="5.80"/><circle cx="993.10" cy="958.80" r="2.90" fill="#1ccaca"/><circle cx="993.10" cy="992.40" r="2.90" fill="#1ccaca"/><line x1="981.10" y1="958.80" x2="981.10" y2="992.40" stroke="#1ccaca" stroke-width="5.80"/><circle cx="981.10" cy="958.80" r="2.90" fill="#1ccaca"/><circle cx="981.10" cy="992.40" r="2.90" fill="#1ccaca"/><line x1="1021.32" y1="931.74" x2="1049.82" y2="949.84" stroke="#1ccaca" stroke-width="5.80"/><circle cx="1021.32" cy="931.74" r="2.90" fill="#1ccaca"/><circle cx="1049.82" cy="949.84" r="2.90" fill="#1ccaca"/><line x1="1014.88" y1="941.86" x2="1043.38" y2="959.96" stroke="#1ccaca" stroke-width="5.80"/><circle cx="1014.88" cy="941.86" r="2.90" fill="#1ccaca"/><circle cx="1043.38" cy="959.96" r="2.90" fill="#1ccaca"/><line x1="1050.13" y1="997.25" x2="1021.63" y2="1017.95" stroke="#1ccaca" stroke-width="5.80"/><circle cx="1050.13" cy="997.25" r="2.90" fill="#1ccaca"/><circle cx="1021.63" cy="1017.95" r="2.90" fill="#1ccaca"/><line x1="1043.07" y1="987.55" x2="1014.57" y2="1008.25" stroke="#1ccaca" stroke-width="5.80"/><circle cx="1043.07" cy="987.55" r="2.90" fill="#1ccaca"/><circle cx="1014.57" cy="1008.25" r="2.90" fill="#1ccaca"/><line x1="1097.50" y1="1070.68" x2="1069.90" y2="1053.28" stroke="#1ccaca" stroke-width="5.80"/><circle cx="1097.50" cy="1070.68" r="2.90" fill="#1ccaca"/><circle cx="1069.90" cy="1053.28" r="2.90" fill="#1ccaca"/><line x1="1103.90" y1="1060.52" x2="1076.30" y2="1043.12" stroke="#1ccaca" stroke-width="5.80"/><circle cx="1103.90" cy="1060.52" r="2.90" fill="#1ccaca"/><circle cx="1076.30" cy="1043.12" r="2.90" fill="#1ccaca"/><line x1="1163.85" y1="986.90" x2="1188.35" y2="1007.40" stroke="#1ccaca" stroke-width="5.80"/><circle cx="1163.85" cy="986.90" r="2.90" fill="#1ccaca"/><circle cx="1188.35" cy="1007.40" r="2.90" fill="#1ccaca"/><line x1="1156.15" y1="996.10" x2="1180.65" y2="1016.60" stroke="#1ccaca" stroke-width="5.80"/><circle cx="1156.15" cy="996.10" r="2.90" fill="#1ccaca"/><circle cx="1180.65" cy="1016.60" r="2.90" fill="#1ccaca"/><line x1="1209.76" y1="947.93" x2="1237.96" y2="931.33" stroke="#1ccaca" stroke-width="5.80"/><circle cx="1209.76" cy="947.93" r="2.90" fill="#1ccaca"/><circle cx="1237.96" cy="931.33" r="2.90" fill="#1ccaca"/><line x1="1215.84" y1="958.27" x2="1244.04" y2="941.67" stroke="#1ccaca" stroke-width="5.80"/><circle cx="1215.84" cy="958.27" r="2.90" fill="#1ccaca"/><circle cx="1244.04" cy="941.67" r="2.90" fill="#1ccaca"/><line x1="1278.10" y1="957.00" x2="1278.10" y2="988.10" stroke="#1ccaca" stroke-width="5.80"/><circle cx="1278.10" cy="957.00" r="2.90" fill="#1ccaca"/><circle cx="1278.10" cy="988.10" r="2.90" fill="#1ccaca"/><line x1="1266.10" y1="957.00" x2="1266.10" y2="988.10" stroke="#1ccaca" stroke-width="5.80"/><circle cx="1266.10" cy="957.00" r="2.90" fill="#1ccaca"/><circle cx="1266.10" cy="988.10" r="2.90" fill="#1ccaca"/><line x1="1236.99" y1="1017.87" x2="1208.79" y2="992.57" stroke="#1ccaca" stroke-width="5.80"/><circle cx="1236.99" cy="1017.87" r="2.90" fill="#1ccaca"/><circle cx="1208.79" cy="992.57" r="2.90" fill="#1ccaca"/><line x1="1245.01" y1="1008.93" x2="1216.81" y2="983.63" stroke="#1ccaca" stroke-width="5.80"/><circle cx="1245.01" cy="1008.93" r="2.90" fill="#1ccaca"/><circle cx="1216.81" cy="983.63" r="2.90" fill="#1ccaca"/><line x1="1099.85" y1="961.35" x2="1084.95" y2="952.95" stroke="#1ccaca" stroke-width="5.80"/><line x1="1084.95" y1="952.95" x2="1070.05" y2="944.55" stroke="#c83a3a" stroke-width="5.80"/><circle cx="1099.85" cy="961.35" r="2.90" fill="#1ccaca"/><circle cx="1070.05" cy="944.55" r="2.90" fill="#c83a3a"/><line x1="1105.55" y1="951.25" x2="1090.65" y2="942.85" stroke="#1ccaca" stroke-width="5.80"/><line x1="1090.65" y1="942.85" x2="1075.75" y2="934.45" stroke="#c83a3a" stroke-width="5.80"/><circle cx="1105.55" cy="951.25" r="2.90" fill="#1ccaca"/><circle cx="1075.75" cy="934.45" r="2.90" fill="#c83a3a"/><line x1="1156.45" y1="1060.44" x2="1169.90" y2="1050.14" stroke="#1ccaca" stroke-width="5.80"/><line x1="1169.90" y1="1050.14" x2="1183.35" y2="1039.84" stroke="#c83a3a" stroke-width="5.80"/><circle cx="1156.45" cy="1060.44" r="2.90" fill="#1ccaca"/><circle cx="1183.35" cy="1039.84" r="2.90" fill="#c83a3a"/><line x1="1164.35" y1="1070.76" x2="1177.80" y2="1060.46" stroke="#1ccaca" stroke-width="5.80"/><line x1="1177.80" y1="1060.46" x2="1191.25" y2="1050.16" stroke="#c83a3a" stroke-width="5.80"/><circle cx="1164.35" cy="1070.76" r="2.90" fill="#1ccaca"/><circle cx="1191.25" cy="1050.16" r="2.90" fill="#c83a3a"/><line x1="992.40" y1="958.80" x2="992.40" y2="992.40" stroke="#38f4f4" stroke-width="3.60"/><circle cx="992.40" cy="958.80" r="1.80" fill="#38f4f4"/><circle cx="992.40" cy="992.40" r="1.80" fill="#38f4f4"/><line x1="980.40" y1="958.80" x2="980.40" y2="992.40" stroke="#38f4f4" stroke-width="3.60"/><circle cx="980.40" cy="958.80" r="1.80" fill="#38f4f4"/><circle cx="980.40" cy="992.40" r="1.80" fill="#38f4f4"/><line x1="1021.69" y1="931.15" x2="1050.19" y2="949.25" stroke="#38f4f4" stroke-width="3.60"/><circle cx="1021.69" cy="931.15" r="1.80" fill="#38f4f4"/><circle cx="1050.19" cy="949.25" r="1.80" fill="#38f4f4"/><line x1="1015.26" y1="941.28" x2="1043.76" y2="959.38" stroke="#38f4f4" stroke-width="3.60"/><circle cx="1015.26" cy="941.28" r="1.80" fill="#38f4f4"/><circle cx="1043.76" cy="959.38" r="1.80" fill="#38f4f4"/><line x1="1049.72" y1="996.69" x2="1021.22" y2="1017.39" stroke="#38f4f4" stroke-width="3.60"/><circle cx="1049.72" cy="996.69" r="1.80" fill="#38f4f4"/><circle cx="1021.22" cy="1017.39" r="1.80" fill="#38f4f4"/><line x1="1042.66" y1="986.98" x2="1014.16" y2="1007.68" stroke="#38f4f4" stroke-width="3.60"/><circle cx="1042.66" cy="986.98" r="1.80" fill="#38f4f4"/><circle cx="1014.16" cy="1007.68" r="1.80" fill="#38f4f4"/><line x1="1097.87" y1="1070.09" x2="1070.27" y2="1052.69" stroke="#38f4f4" stroke-width="3.60"/><circle cx="1097.87" cy="1070.09" r="1.80" fill="#38f4f4"/><circle cx="1070.27" cy="1052.69" r="1.80" fill="#38f4f4"/><line x1="1104.27" y1="1059.94" x2="1076.67" y2="1042.54" stroke="#38f4f4" stroke-width="3.60"/><circle cx="1104.27" cy="1059.94" r="1.80" fill="#38f4f4"/><circle cx="1076.67" cy="1042.54" r="1.80" fill="#38f4f4"/><line x1="1164.30" y1="986.36" x2="1188.80" y2="1006.86" stroke="#38f4f4" stroke-width="3.60"/><circle cx="1164.30" cy="986.36" r="1.80" fill="#38f4f4"/><circle cx="1188.80" cy="1006.86" r="1.80" fill="#38f4f4"/><line x1="1156.60" y1="995.57" x2="1181.10" y2="1016.07" stroke="#38f4f4" stroke-width="3.60"/><circle cx="1156.60" cy="995.57" r="1.80" fill="#38f4f4"/><circle cx="1181.10" cy="1016.07" r="1.80" fill="#38f4f4"/><line x1="1209.40" y1="947.33" x2="1237.60" y2="930.73" stroke="#38f4f4" stroke-width="3.60"/><circle cx="1209.40" cy="947.33" r="1.80" fill="#38f4f4"/><circle cx="1237.60" cy="930.73" r="1.80" fill="#38f4f4"/><line x1="1215.49" y1="957.67" x2="1243.69" y2="941.07" stroke="#38f4f4" stroke-width="3.60"/><circle cx="1215.49" cy="957.67" r="1.80" fill="#38f4f4"/><circle cx="1243.69" cy="941.07" r="1.80" fill="#38f4f4"/><line x1="1277.40" y1="957.00" x2="1277.40" y2="988.10" stroke="#38f4f4" stroke-width="3.60"/><circle cx="1277.40" cy="957.00" r="1.80" fill="#38f4f4"/><circle cx="1277.40" cy="988.10" r="1.80" fill="#38f4f4"/><line x1="1265.40" y1="957.00" x2="1265.40" y2="988.10" stroke="#38f4f4" stroke-width="3.60"/><circle cx="1265.40" cy="957.00" r="1.80" fill="#38f4f4"/><circle cx="1265.40" cy="988.10" r="1.80" fill="#38f4f4"/><line x1="1237.46" y1="1017.35" x2="1209.26" y2="992.05" stroke="#38f4f4" stroke-width="3.60"/><circle cx="1237.46" cy="1017.35" r="1.80" fill="#38f4f4"/><circle cx="1209.26" cy="992.05" r="1.80" fill="#38f4f4"/><line x1="1245.47" y1="1008.42" x2="1217.27" y2="983.12" stroke="#38f4f4" stroke-width="3.60"/><circle cx="1245.47" cy="1008.42" r="1.80" fill="#38f4f4"/><circle cx="1217.27" cy="983.12" r="1.80" fill="#38f4f4"/><line x1="1100.19" y1="960.75" x2="1085.29" y2="952.35" stroke="#38f4f4" stroke-width="3.60"/><line x1="1085.29" y1="952.35" x2="1070.39" y2="943.95" stroke="#f35656" stroke-width="3.60"/><circle cx="1100.19" cy="960.75" r="1.80" fill="#38f4f4"/><circle cx="1070.39" cy="943.95" r="1.80" fill="#f35656"/><line x1="1105.89" y1="950.64" x2="1090.99" y2="942.24" stroke="#38f4f4" stroke-width="3.60"/><line x1="1090.99" y1="942.24" x2="1076.09" y2="933.84" stroke="#f35656" stroke-width="3.60"/><circle cx="1105.89" cy="950.64" r="1.80" fill="#38f4f4"/><circle cx="1076.09" cy="933.84" r="1.80" fill="#f35656"/><line x1="1156.02" y1="1059.89" x2="1169.47" y2="1049.59" stroke="#38f4f4" stroke-width="3.60"/><line x1="1169.47" y1="1049.59" x2="1182.92" y2="1039.29" stroke="#f35656" stroke-width="3.60"/><circle cx="1156.02" cy="1059.89" r="1.80" fill="#38f4f4"/><circle cx="1182.92" cy="1039.29" r="1.80" fill="#f35656"/><line x1="1163.93" y1="1070.21" x2="1177.38" y2="1059.91" stroke="#38f4f4" stroke-width="3.60"/><line x1="1177.38" y1="1059.91" x2="1190.83" y2="1049.61" stroke="#f35656" stroke-width="3.60"/><circle cx="1163.93" cy="1070.21" r="1.80" fill="#38f4f4"/><circle cx="1190.83" cy="1049.61" r="1.80" fill="#f35656"/><line x1="991.94" y1="958.80" x2="991.94" y2="992.40" stroke="#a0ffff" stroke-width="1.28"/><line x1="979.94" y1="958.80" x2="979.94" y2="992.40" stroke="#a0ffff" stroke-width="1.28"/><line x1="1021.94" y1="930.76" x2="1050.44" y2="948.86" stroke="#a0ffff" stroke-width="1.28"/><line x1="1015.51" y1="940.89" x2="1044.01" y2="958.99" stroke="#a0ffff" stroke-width="1.28"/><line x1="1049.44" y1="996.32" x2="1020.94" y2="1017.02" stroke="#a0ffff" stroke-width="1.28"/><line x1="1042.39" y1="986.61" x2="1013.89" y2="1007.31" stroke="#a0ffff" stroke-width="1.28"/><line x1="1098.12" y1="1069.69" x2="1070.52" y2="1052.29" stroke="#a0ffff" stroke-width="1.28"/><line x1="1104.52" y1="1059.54" x2="1076.92" y2="1042.14" stroke="#a0ffff" stroke-width="1.28"/><line x1="1164.59" y1="986.01" x2="1189.09" y2="1006.51" stroke="#a0ffff" stroke-width="1.28"/><line x1="1156.89" y1="995.21" x2="1181.39" y2="1015.71" stroke="#a0ffff" stroke-width="1.28"/><line x1="1209.17" y1="946.93" x2="1237.37" y2="930.33" stroke="#a0ffff" stroke-width="1.28"/><line x1="1215.26" y1="957.27" x2="1243.46" y2="940.67" stroke="#a0ffff" stroke-width="1.28"/><line x1="1276.94" y1="957.00" x2="1276.94" y2="988.10" stroke="#a0ffff" stroke-width="1.28"/><line x1="1264.94" y1="957.00" x2="1264.94" y2="988.10" stroke="#a0ffff" stroke-width="1.28"/><line x1="1237.77" y1="1017.00" x2="1209.57" y2="991.70" stroke="#a0ffff" stroke-width="1.28"/><line x1="1245.78" y1="1008.07" x2="1217.58" y2="982.77" stroke="#a0ffff" stroke-width="1.28"/><line x1="1100.42" y1="960.34" x2="1085.52" y2="951.94" stroke="#a0ffff" stroke-width="1.28"/><line x1="1085.52" y1="951.94" x2="1070.62" y2="943.54" stroke="#ffa8a8" stroke-width="1.28"/><line x1="1106.12" y1="950.24" x2="1091.22" y2="941.84" stroke="#a0ffff" stroke-width="1.28"/><line x1="1091.22" y1="941.84" x2="1076.32" y2="933.44" stroke="#ffa8a8" stroke-width="1.28"/><line x1="1155.74" y1="1059.52" x2="1169.19" y2="1049.22" stroke="#a0ffff" stroke-width="1.28"/><line x1="1169.19" y1="1049.22" x2="1182.64" y2="1038.92" stroke="#ffa8a8" stroke-width="1.28"/><line x1="1163.65" y1="1069.84" x2="1177.10" y2="1059.54" stroke="#a0ffff" stroke-width="1.28"/><line x1="1177.10" y1="1059.54" x2="1190.55" y2="1049.24" stroke="#ffa8a8" stroke-width="1.28"/><line x1="937.90" y1="974.30" x2="948.90" y2="960.75" stroke="#0a4a4a" stroke-width="17.90"/><line x1="948.90" y1="960.75" x2="959.90" y2="947.20" stroke="#551515" stroke-width="17.90"/><line x1="937.90" y1="974.30" x2="948.90" y2="988.55" stroke="#0a4a4a" stroke-width="17.90"/><line x1="948.90" y1="988.55" x2="959.90" y2="1002.80" stroke="#551515" stroke-width="17.90"/><line x1="959.90" y1="947.20" x2="973.50" y2="953.00" stroke="#551515" stroke-width="17.90"/><line x1="973.50" y1="953.00" x2="987.10" y2="958.80" stroke="#0a4a4a" stroke-width="17.90"/><line x1="959.90" y1="1002.80" x2="973.50" y2="997.60" stroke="#551515" stroke-width="17.90"/><line x1="973.50" y1="997.60" x2="987.10" y2="992.40" stroke="#0a4a4a" stroke-width="17.90"/><line x1="987.10" y1="958.80" x2="1018.10" y2="936.80" stroke="#0a4a4a" stroke-width="17.90"/><line x1="1046.60" y1="954.90" x2="1046.60" y2="992.40" stroke="#0a4a4a" stroke-width="17.90"/><line x1="1018.10" y1="1013.10" x2="987.10" y2="992.40" stroke="#0a4a4a" stroke-width="17.90"/><line x1="1046.60" y1="992.40" x2="1073.00" y2="1006.00" stroke="#0a4a4a" stroke-width="17.90"/><line x1="1073.00" y1="1006.00" x2="1103.00" y2="993.00" stroke="#0a4a4a" stroke-width="17.90"/><line x1="1103.00" y1="993.00" x2="1131.50" y2="1008.00" stroke="#0a4a4a" stroke-width="17.90"/><line x1="1131.50" y1="1008.00" x2="1131.30" y2="1048.20" stroke="#0a4a4a" stroke-width="17.90"/><line x1="1131.30" y1="1048.20" x2="1100.70" y2="1065.60" stroke="#0a4a4a" stroke-width="17.90"/><line x1="1073.10" y1="1048.20" x2="1073.00" y2="1006.00" stroke="#0a4a4a" stroke-width="17.90"/><line x1="1103.00" y1="993.00" x2="1102.70" y2="956.30" stroke="#0a4a4a" stroke-width="17.90"/><line x1="1102.70" y1="956.30" x2="1116.85" y2="948.40" stroke="#0a4a4a" stroke-width="17.90"/><line x1="1116.85" y1="948.40" x2="1131.00" y2="940.50" stroke="#0a0a50" stroke-width="17.90"/><line x1="1131.00" y1="940.50" x2="1132.00" y2="920.75" stroke="#0a0a50" stroke-width="17.90"/><line x1="1132.00" y1="920.75" x2="1133.00" y2="901.00" stroke="#0a4a4a" stroke-width="17.90"/><line x1="1133.00" y1="901.00" x2="1166.50" y2="894.50" stroke="#0a4a4a" stroke-width="17.90"/><line x1="1166.50" y1="894.50" x2="1182.00" y2="925.50" stroke="#0a4a4a" stroke-width="17.90"/><line x1="1182.00" y1="925.50" x2="1160.00" y2="953.00" stroke="#0a4a4a" stroke-width="17.90"/><line x1="1160.00" y1="953.00" x2="1145.50" y2="946.75" stroke="#0a4a4a" stroke-width="17.90"/><line x1="1145.50" y1="946.75" x2="1131.00" y2="940.50" stroke="#0a0a50" stroke-width="17.90"/><line x1="1131.30" y1="1048.20" x2="1160.40" y2="1065.60" stroke="#0a4a4a" stroke-width="17.90"/><line x1="1160.40" y1="1065.60" x2="1159.45" y2="1082.30" stroke="#0a4a4a" stroke-width="17.90"/><line x1="1159.45" y1="1082.30" x2="1158.50" y2="1099.00" stroke="#0a0a50" stroke-width="17.90"/><line x1="1158.50" y1="1099.00" x2="1144.25" y2="1108.75" stroke="#0a0a50" stroke-width="17.90"/><line x1="1144.25" y1="1108.75" x2="1130.00" y2="1118.50" stroke="#0a4a4a" stroke-width="17.90"/><line x1="1130.00" y1="1118.50" x2="1140.00" y2="1152.50" stroke="#0a4a4a" stroke-width="17.90"/><line x1="1140.00" y1="1152.50" x2="1176.50" y2="1152.50" stroke="#0a4a4a" stroke-width="17.90"/><line x1="1176.50" y1="1152.50" x2="1186.00" y2="1117.00" stroke="#0a4a4a" stroke-width="17.90"/><line x1="1186.00" y1="1117.00" x2="1172.25" y2="1108.00" stroke="#0a4a4a" stroke-width="17.90"/><line x1="1172.25" y1="1108.00" x2="1158.50" y2="1099.00" stroke="#0a0a50" stroke-width="17.90"/><line x1="1131.50" y1="1008.00" x2="1160.00" y2="991.50" stroke="#0a4a4a" stroke-width="17.90"/><line x1="1184.50" y1="1012.00" x2="1212.80" y2="988.10" stroke="#0a4a4a" stroke-width="17.90"/><line x1="1212.80" y1="988.10" x2="1212.80" y2="953.10" stroke="#0a4a4a" stroke-width="17.90"/><line x1="1241.00" y1="936.50" x2="1272.10" y2="957.00" stroke="#0a4a4a" stroke-width="17.90"/><line x1="1272.10" y1="988.10" x2="1241.00" y2="1013.40" stroke="#0a4a4a" stroke-width="17.90"/><line x1="1272.10" y1="957.00" x2="1285.25" y2="951.15" stroke="#0a4a4a" stroke-width="17.90"/><line x1="1285.25" y1="951.15" x2="1298.40" y2="945.30" stroke="#551515" stroke-width="17.90"/><line x1="1298.40" y1="945.30" x2="1311.05" y2="959.90" stroke="#551515" stroke-width="17.90"/><line x1="1311.05" y1="959.90" x2="1323.70" y2="974.50" stroke="#0a4a4a" stroke-width="17.90"/><line x1="1323.70" y1="974.50" x2="1311.55" y2="990.05" stroke="#0a4a4a" stroke-width="17.90"/><line x1="1311.55" y1="990.05" x2="1299.40" y2="1005.60" stroke="#551515" stroke-width="17.90"/><line x1="1299.40" y1="1005.60" x2="1285.75" y2="996.85" stroke="#551515" stroke-width="17.90"/><line x1="1285.75" y1="996.85" x2="1272.10" y2="988.10" stroke="#0a4a4a" stroke-width="17.90"/><circle cx="937.90" cy="974.30" r="8.95" fill="#0a4a4a"/><circle cx="959.90" cy="947.20" r="8.95" fill="#551515"/><circle cx="959.90" cy="1002.80" r="8.95" fill="#551515"/><circle cx="987.10" cy="958.80" r="8.95" fill="#0a4a4a"/><circle cx="987.10" cy="992.40" r="8.95" fill="#0a4a4a"/><circle cx="1018.10" cy="936.80" r="8.95" fill="#0a4a4a"/><circle cx="1046.60" cy="954.90" r="8.95" fill="#0a4a4a"/><circle cx="1046.60" cy="992.40" r="8.95" fill="#0a4a4a"/><circle cx="1018.10" cy="1013.10" r="8.95" fill="#0a4a4a"/><circle cx="1073.00" cy="1006.00" r="8.95" fill="#0a4a4a"/><circle cx="1103.00" cy="993.00" r="8.95" fill="#0a4a4a"/><circle cx="1131.50" cy="1008.00" r="8.95" fill="#0a4a4a"/><circle cx="1131.30" cy="1048.20" r="8.95" fill="#0a4a4a"/><circle cx="1100.70" cy="1065.60" r="8.95" fill="#0a4a4a"/><circle cx="1073.10" cy="1048.20" r="8.95" fill="#0a4a4a"/><circle cx="1102.70" cy="956.30" r="8.95" fill="#0a4a4a"/><circle cx="1131.00" cy="940.50" r="8.95" fill="#0a0a50"/><circle cx="1133.00" cy="901.00" r="8.95" fill="#0a4a4a"/><circle cx="1166.50" cy="894.50" r="8.95" fill="#0a4a4a"/><circle cx="1182.00" cy="925.50" r="8.95" fill="#0a4a4a"/><circle cx="1160.00" cy="953.00" r="8.95" fill="#0a4a4a"/><circle cx="1160.40" cy="1065.60" r="8.95" fill="#0a4a4a"/><circle cx="1158.50" cy="1099.00" r="8.95" fill="#0a0a50"/><circle cx="1130.00" cy="1118.50" r="8.95" fill="#0a4a4a"/><circle cx="1140.00" cy="1152.50" r="8.95" fill="#0a4a4a"/><circle cx="1176.50" cy="1152.50" r="8.95" fill="#0a4a4a"/><circle cx="1186.00" cy="1117.00" r="8.95" fill="#0a4a4a"/><circle cx="1160.00" cy="991.50" r="8.95" fill="#0a4a4a"/><circle cx="1184.50" cy="1012.00" r="8.95" fill="#0a4a4a"/><circle cx="1212.80" cy="988.10" r="8.95" fill="#0a4a4a"/><circle cx="1212.80" cy="953.10" r="8.95" fill="#0a4a4a"/><circle cx="1241.00" cy="936.50" r="8.95" fill="#0a4a4a"/><circle cx="1272.10" cy="957.00" r="8.95" fill="#0a4a4a"/><circle cx="1272.10" cy="988.10" r="8.95" fill="#0a4a4a"/><circle cx="1241.00" cy="1013.40" r="8.95" fill="#0a4a4a"/><circle cx="1298.40" cy="945.30" r="8.95" fill="#551515"/><circle cx="1323.70" cy="974.50" r="8.95" fill="#0a4a4a"/><circle cx="1299.40" cy="1005.60" r="8.95" fill="#551515"/><line x1="937.90" y1="974.30" x2="948.90" y2="960.75" stroke="#1ccaca" stroke-width="15.50"/><line x1="948.90" y1="960.75" x2="959.90" y2="947.20" stroke="#c83a3a" stroke-width="15.50"/><line x1="937.90" y1="974.30" x2="948.90" y2="988.55" stroke="#1ccaca" stroke-width="15.50"/><line x1="948.90" y1="988.55" x2="959.90" y2="1002.80" stroke="#c83a3a" stroke-width="15.50"/><line x1="959.90" y1="947.20" x2="973.50" y2="953.00" stroke="#c83a3a" stroke-width="15.50"/><line x1="973.50" y1="953.00" x2="987.10" y2="958.80" stroke="#1ccaca" stroke-width="15.50"/><line x1="959.90" y1="1002.80" x2="973.50" y2="997.60" stroke="#c83a3a" stroke-width="15.50"/><line x1="973.50" y1="997.60" x2="987.10" y2="992.40" stroke="#1ccaca" stroke-width="15.50"/><line x1="987.10" y1="958.80" x2="1018.10" y2="936.80" stroke="#1ccaca" stroke-width="15.50"/><line x1="1046.60" y1="954.90" x2="1046.60" y2="992.40" stroke="#1ccaca" stroke-width="15.50"/><line x1="1018.10" y1="1013.10" x2="987.10" y2="992.40" stroke="#1ccaca" stroke-width="15.50"/><line x1="1046.60" y1="992.40" x2="1073.00" y2="1006.00" stroke="#1ccaca" stroke-width="15.50"/><line x1="1073.00" y1="1006.00" x2="1103.00" y2="993.00" stroke="#1ccaca" stroke-width="15.50"/><line x1="1103.00" y1="993.00" x2="1131.50" y2="1008.00" stroke="#1ccaca" stroke-width="15.50"/><line x1="1131.50" y1="1008.00" x2="1131.30" y2="1048.20" stroke="#1ccaca" stroke-width="15.50"/><line x1="1131.30" y1="1048.20" x2="1100.70" y2="1065.60" stroke="#1ccaca" stroke-width="15.50"/><line x1="1073.10" y1="1048.20" x2="1073.00" y2="1006.00" stroke="#1ccaca" stroke-width="15.50"/><line x1="1103.00" y1="993.00" x2="1102.70" y2="956.30" stroke="#1ccaca" stroke-width="15.50"/><line x1="1102.70" y1="956.30" x2="1116.85" y2="948.40" stroke="#1ccaca" stroke-width="15.50"/><line x1="1116.85" y1="948.40" x2="1131.00" y2="940.50" stroke="#2222b8" stroke-width="15.50"/><line x1="1131.00" y1="940.50" x2="1132.00" y2="920.75" stroke="#2222b8" stroke-width="15.50"/><line x1="1132.00" y1="920.75" x2="1133.00" y2="901.00" stroke="#1ccaca" stroke-width="15.50"/><line x1="1133.00" y1="901.00" x2="1166.50" y2="894.50" stroke="#1ccaca" stroke-width="15.50"/><line x1="1166.50" y1="894.50" x2="1182.00" y2="925.50" stroke="#1ccaca" stroke-width="15.50"/><line x1="1182.00" y1="925.50" x2="1160.00" y2="953.00" stroke="#1ccaca" stroke-width="15.50"/><line x1="1160.00" y1="953.00" x2="1145.50" y2="946.75" stroke="#1ccaca" stroke-width="15.50"/><line x1="1145.50" y1="946.75" x2="1131.00" y2="940.50" stroke="#2222b8" stroke-width="15.50"/><line x1="1131.30" y1="1048.20" x2="1160.40" y2="1065.60" stroke="#1ccaca" stroke-width="15.50"/><line x1="1160.40" y1="1065.60" x2="1159.45" y2="1082.30" stroke="#1ccaca" stroke-width="15.50"/><line x1="1159.45" y1="1082.30" x2="1158.50" y2="1099.00" stroke="#2222b8" stroke-width="15.50"/><line x1="1158.50" y1="1099.00" x2="1144.25" y2="1108.75" stroke="#2222b8" stroke-width="15.50"/><line x1="1144.25" y1="1108.75" x2="1130.00" y2="1118.50" stroke="#1ccaca" stroke-width="15.50"/><line x1="1130.00" y1="1118.50" x2="1140.00" y2="1152.50" stroke="#1ccaca" stroke-width="15.50"/><line x1="1140.00" y1="1152.50" x2="1176.50" y2="1152.50" stroke="#1ccaca" stroke-width="15.50"/><line x1="1176.50" y1="1152.50" x2="1186.00" y2="1117.00" stroke="#1ccaca" stroke-width="15.50"/><line x1="1186.00" y1="1117.00" x2="1172.25" y2="1108.00" stroke="#1ccaca" stroke-width="15.50"/><line x1="1172.25" y1="1108.00" x2="1158.50" y2="1099.00" stroke="#2222b8" stroke-width="15.50"/><line x1="1131.50" y1="1008.00" x2="1160.00" y2="991.50" stroke="#1ccaca" stroke-width="15.50"/><line x1="1184.50" y1="1012.00" x2="1212.80" y2="988.10" stroke="#1ccaca" stroke-width="15.50"/><line x1="1212.80" y1="988.10" x2="1212.80" y2="953.10" stroke="#1ccaca" stroke-width="15.50"/><line x1="1241.00" y1="936.50" x2="1272.10" y2="957.00" stroke="#1ccaca" stroke-width="15.50"/><line x1="1272.10" y1="988.10" x2="1241.00" y2="1013.40" stroke="#1ccaca" stroke-width="15.50"/><line x1="1272.10" y1="957.00" x2="1285.25" y2="951.15" stroke="#1ccaca" stroke-width="15.50"/><line x1="1285.25" y1="951.15" x2="1298.40" y2="945.30" stroke="#c83a3a" stroke-width="15.50"/><line x1="1298.40" y1="945.30" x2="1311.05" y2="959.90" stroke="#c83a3a" stroke-width="15.50"/><line x1="1311.05" y1="959.90" x2="1323.70" y2="974.50" stroke="#1ccaca" stroke-width="15.50"/><line x1="1323.70" y1="974.50" x2="1311.55" y2="990.05" stroke="#1ccaca" stroke-width="15.50"/><line x1="1311.55" y1="990.05" x2="1299.40" y2="1005.60" stroke="#c83a3a" stroke-width="15.50"/><line x1="1299.40" y1="1005.60" x2="1285.75" y2="996.85" stroke="#c83a3a" stroke-width="15.50"/><line x1="1285.75" y1="996.85" x2="1272.10" y2="988.10" stroke="#1ccaca" stroke-width="15.50"/><circle cx="937.90" cy="974.30" r="7.75" fill="#1ccaca"/><circle cx="959.90" cy="947.20" r="7.75" fill="#c83a3a"/><circle cx="959.90" cy="1002.80" r="7.75" fill="#c83a3a"/><circle cx="987.10" cy="958.80" r="7.75" fill="#1ccaca"/><circle cx="987.10" cy="992.40" r="7.75" fill="#1ccaca"/><circle cx="1018.10" cy="936.80" r="7.75" fill="#1ccaca"/><circle cx="1046.60" cy="954.90" r="7.75" fill="#1ccaca"/><circle cx="1046.60" cy="992.40" r="7.75" fill="#1ccaca"/><circle cx="1018.10" cy="1013.10" r="7.75" fill="#1ccaca"/><circle cx="1073.00" cy="1006.00" r="7.75" fill="#1ccaca"/><circle cx="1103.00" cy="993.00" r="7.75" fill="#1ccaca"/><circle cx="1131.50" cy="1008.00" r="7.75" fill="#1ccaca"/><circle cx="1131.30" cy="1048.20" r="7.75" fill="#1ccaca"/><circle cx="1100.70" cy="1065.60" r="7.75" fill="#1ccaca"/><circle cx="1073.10" cy="1048.20" r="7.75" fill="#1ccaca"/><circle cx="1102.70" cy="956.30" r="7.75" fill="#1ccaca"/><circle cx="1131.00" cy="940.50" r="7.75" fill="#2222b8"/><circle cx="1133.00" cy="901.00" r="7.75" fill="#1ccaca"/><circle cx="1166.50" cy="894.50" r="7.75" fill="#1ccaca"/><circle cx="1182.00" cy="925.50" r="7.75" fill="#1ccaca"/><circle cx="1160.00" cy="953.00" r="7.75" fill="#1ccaca"/><circle cx="1160.40" cy="1065.60" r="7.75" fill="#1ccaca"/><circle cx="1158.50" cy="1099.00" r="7.75" fill="#2222b8"/><circle cx="1130.00" cy="1118.50" r="7.75" fill="#1ccaca"/><circle cx="1140.00" cy="1152.50" r="7.75" fill="#1ccaca"/><circle cx="1176.50" cy="1152.50" r="7.75" fill="#1ccaca"/><circle cx="1186.00" cy="1117.00" r="7.75" fill="#1ccaca"/><circle cx="1160.00" cy="991.50" r="7.75" fill="#1ccaca"/><circle cx="1184.50" cy="1012.00" r="7.75" fill="#1ccaca"/><circle cx="1212.80" cy="988.10" r="7.75" fill="#1ccaca"/><circle cx="1212.80" cy="953.10" r="7.75" fill="#1ccaca"/><circle cx="1241.00" cy="936.50" r="7.75" fill="#1ccaca"/><circle cx="1272.10" cy="957.00" r="7.75" fill="#1ccaca"/><circle cx="1272.10" cy="988.10" r="7.75" fill="#1ccaca"/><circle cx="1241.00" cy="1013.40" r="7.75" fill="#1ccaca"/><circle cx="1298.40" cy="945.30" r="7.75" fill="#c83a3a"/><circle cx="1323.70" cy="974.50" r="7.75" fill="#1ccaca"/><circle cx="1299.40" cy="1005.60" r="7.75" fill="#c83a3a"/><line x1="936.70" y1="973.32" x2="947.70" y2="959.77" stroke="#38f4f4" stroke-width="10.23"/><line x1="947.70" y1="959.77" x2="958.70" y2="946.22" stroke="#f35656" stroke-width="10.23"/><line x1="939.13" y1="973.35" x2="950.13" y2="987.60" stroke="#38f4f4" stroke-width="10.23"/><line x1="950.13" y1="987.60" x2="961.13" y2="1001.85" stroke="#f35656" stroke-width="10.23"/><line x1="960.51" y1="945.77" x2="974.11" y2="951.57" stroke="#f35656" stroke-width="10.23"/><line x1="974.11" y1="951.57" x2="987.71" y2="957.37" stroke="#38f4f4" stroke-width="10.23"/><line x1="959.35" y1="1001.35" x2="972.95" y2="996.15" stroke="#f35656" stroke-width="10.23"/><line x1="972.95" y1="996.15" x2="986.55" y2="990.95" stroke="#38f4f4" stroke-width="10.23"/><line x1="986.20" y1="957.54" x2="1017.20" y2="935.54" stroke="#38f4f4" stroke-width="10.23"/><line x1="1045.05" y1="954.90" x2="1045.05" y2="992.40" stroke="#38f4f4" stroke-width="10.23"/><line x1="1018.96" y1="1011.81" x2="987.96" y2="991.11" stroke="#38f4f4" stroke-width="10.23"/><line x1="1047.31" y1="991.02" x2="1073.71" y2="1004.62" stroke="#38f4f4" stroke-width="10.23"/><line x1="1072.38" y1="1004.58" x2="1102.38" y2="991.58" stroke="#38f4f4" stroke-width="10.23"/><line x1="1103.72" y1="991.63" x2="1132.22" y2="1006.63" stroke="#38f4f4" stroke-width="10.23"/><line x1="1129.95" y1="1007.99" x2="1129.75" y2="1048.19" stroke="#38f4f4" stroke-width="10.23"/><line x1="1130.53" y1="1046.85" x2="1099.93" y2="1064.25" stroke="#38f4f4" stroke-width="10.23"/><line x1="1071.55" y1="1048.20" x2="1071.45" y2="1006.00" stroke="#38f4f4" stroke-width="10.23"/><line x1="1101.45" y1="993.01" x2="1101.15" y2="956.31" stroke="#38f4f4" stroke-width="10.23"/><line x1="1101.94" y1="954.95" x2="1116.09" y2="947.05" stroke="#38f4f4" stroke-width="10.23"/><line x1="1116.09" y1="947.05" x2="1130.24" y2="939.15" stroke="#3b3bf2" stroke-width="10.23"/><line x1="1129.45" y1="940.42" x2="1130.45" y2="920.67" stroke="#3b3bf2" stroke-width="10.23"/><line x1="1130.45" y1="920.67" x2="1131.45" y2="900.92" stroke="#38f4f4" stroke-width="10.23"/><line x1="1132.70" y1="899.48" x2="1166.20" y2="892.98" stroke="#38f4f4" stroke-width="10.23"/><line x1="1165.11" y1="895.19" x2="1180.61" y2="926.19" stroke="#38f4f4" stroke-width="10.23"/><line x1="1180.79" y1="924.53" x2="1158.79" y2="952.03" stroke="#38f4f4" stroke-width="10.23"/><line x1="1160.61" y1="951.58" x2="1146.11" y2="945.33" stroke="#38f4f4" stroke-width="10.23"/><line x1="1146.11" y1="945.33" x2="1131.61" y2="939.08" stroke="#3b3bf2" stroke-width="10.23"/><line x1="1132.10" y1="1046.87" x2="1161.20" y2="1064.27" stroke="#38f4f4" stroke-width="10.23"/><line x1="1158.85" y1="1065.51" x2="1157.90" y2="1082.21" stroke="#38f4f4" stroke-width="10.23"/><line x1="1157.90" y1="1082.21" x2="1156.95" y2="1098.91" stroke="#3b3bf2" stroke-width="10.23"/><line x1="1157.62" y1="1097.72" x2="1143.37" y2="1107.47" stroke="#3b3bf2" stroke-width="10.23"/><line x1="1143.37" y1="1107.47" x2="1129.12" y2="1117.22" stroke="#38f4f4" stroke-width="10.23"/><line x1="1128.51" y1="1118.94" x2="1138.51" y2="1152.94" stroke="#38f4f4" stroke-width="10.23"/><line x1="1140.00" y1="1150.95" x2="1176.50" y2="1150.95" stroke="#38f4f4" stroke-width="10.23"/><line x1="1175.00" y1="1152.10" x2="1184.50" y2="1116.60" stroke="#38f4f4" stroke-width="10.23"/><line x1="1186.85" y1="1115.70" x2="1173.10" y2="1106.70" stroke="#38f4f4" stroke-width="10.23"/><line x1="1173.10" y1="1106.70" x2="1159.35" y2="1097.70" stroke="#3b3bf2" stroke-width="10.23"/><line x1="1130.72" y1="1006.66" x2="1159.22" y2="990.16" stroke="#38f4f4" stroke-width="10.23"/><line x1="1183.50" y1="1010.82" x2="1211.80" y2="986.92" stroke="#38f4f4" stroke-width="10.23"/><line x1="1211.25" y1="988.10" x2="1211.25" y2="953.10" stroke="#38f4f4" stroke-width="10.23"/><line x1="1241.85" y1="935.21" x2="1272.95" y2="955.71" stroke="#38f4f4" stroke-width="10.23"/><line x1="1271.12" y1="986.90" x2="1240.02" y2="1012.20" stroke="#38f4f4" stroke-width="10.23"/><line x1="1271.47" y1="955.58" x2="1284.62" y2="949.73" stroke="#38f4f4" stroke-width="10.23"/><line x1="1284.62" y1="949.73" x2="1297.77" y2="943.88" stroke="#f35656" stroke-width="10.23"/><line x1="1299.57" y1="944.29" x2="1312.22" y2="958.89" stroke="#f35656" stroke-width="10.23"/><line x1="1312.22" y1="958.89" x2="1324.87" y2="973.49" stroke="#38f4f4" stroke-width="10.23"/><line x1="1322.48" y1="973.55" x2="1310.33" y2="989.10" stroke="#38f4f4" stroke-width="10.23"/><line x1="1310.33" y1="989.10" x2="1298.18" y2="1004.65" stroke="#f35656" stroke-width="10.23"/><line x1="1300.24" y1="1004.30" x2="1286.59" y2="995.55" stroke="#f35656" stroke-width="10.23"/><line x1="1286.59" y1="995.55" x2="1272.94" y2="986.80" stroke="#38f4f4" stroke-width="10.23"/><circle cx="937.30" cy="973.40" r="5.58" fill="#38f4f4"/><circle cx="959.30" cy="946.30" r="5.58" fill="#f35656"/><circle cx="959.30" cy="1001.90" r="5.58" fill="#f35656"/><circle cx="986.50" cy="957.90" r="5.58" fill="#38f4f4"/><circle cx="986.50" cy="991.50" r="5.58" fill="#38f4f4"/><circle cx="1017.50" cy="935.90" r="5.58" fill="#38f4f4"/><circle cx="1046.00" cy="954.00" r="5.58" fill="#38f4f4"/><circle cx="1046.00" cy="991.50" r="5.58" fill="#38f4f4"/><circle cx="1017.50" cy="1012.20" r="5.58" fill="#38f4f4"/><circle cx="1072.40" cy="1005.10" r="5.58" fill="#38f4f4"/><circle cx="1102.40" cy="992.10" r="5.58" fill="#38f4f4"/><circle cx="1130.90" cy="1007.10" r="5.58" fill="#38f4f4"/><circle cx="1130.70" cy="1047.30" r="5.58" fill="#38f4f4"/><circle cx="1100.10" cy="1064.70" r="5.58" fill="#38f4f4"/><circle cx="1072.50" cy="1047.30" r="5.58" fill="#38f4f4"/><circle cx="1102.10" cy="955.40" r="5.58" fill="#38f4f4"/><circle cx="1130.40" cy="939.60" r="5.58" fill="#3b3bf2"/><circle cx="1132.40" cy="900.10" r="5.58" fill="#38f4f4"/><circle cx="1165.90" cy="893.60" r="5.58" fill="#38f4f4"/><circle cx="1181.40" cy="924.60" r="5.58" fill="#38f4f4"/><circle cx="1159.40" cy="952.10" r="5.58" fill="#38f4f4"/><circle cx="1159.80" cy="1064.70" r="5.58" fill="#38f4f4"/><circle cx="1157.90" cy="1098.10" r="5.58" fill="#3b3bf2"/><circle cx="1129.40" cy="1117.60" r="5.58" fill="#38f4f4"/><circle cx="1139.40" cy="1151.60" r="5.58" fill="#38f4f4"/><circle cx="1175.90" cy="1151.60" r="5.58" fill="#38f4f4"/><circle cx="1185.40" cy="1116.10" r="5.58" fill="#38f4f4"/><circle cx="1159.40" cy="990.60" r="5.58" fill="#38f4f4"/><circle cx="1183.90" cy="1011.10" r="5.58" fill="#38f4f4"/><circle cx="1212.20" cy="987.20" r="5.58" fill="#38f4f4"/><circle cx="1212.20" cy="952.20" r="5.58" fill="#38f4f4"/><circle cx="1240.40" cy="935.60" r="5.58" fill="#38f4f4"/><circle cx="1271.50" cy="956.10" r="5.58" fill="#38f4f4"/><circle cx="1271.50" cy="987.20" r="5.58" fill="#38f4f4"/><circle cx="1240.40" cy="1012.50" r="5.58" fill="#38f4f4"/><circle cx="1297.80" cy="944.40" r="5.58" fill="#f35656"/><circle cx="1323.10" cy="973.60" r="5.58" fill="#38f4f4"/><circle cx="1298.80" cy="1004.70" r="5.58" fill="#f35656"/><line x1="935.49" y1="972.35" x2="946.49" y2="958.80" stroke="#a0ffff" stroke-width="2.79"/><line x1="946.49" y1="958.80" x2="957.49" y2="945.25" stroke="#ffa8a8" stroke-width="2.79"/><line x1="940.35" y1="972.41" x2="951.35" y2="986.66" stroke="#a0ffff" stroke-width="2.79"/><line x1="951.35" y1="986.66" x2="962.35" y2="1000.91" stroke="#ffa8a8" stroke-width="2.79"/><line x1="961.12" y1="944.35" x2="974.72" y2="950.15" stroke="#ffa8a8" stroke-width="2.79"/><line x1="974.72" y1="950.15" x2="988.32" y2="955.95" stroke="#a0ffff" stroke-width="2.79"/><line x1="958.79" y1="999.90" x2="972.39" y2="994.70" stroke="#ffa8a8" stroke-width="2.79"/><line x1="972.39" y1="994.70" x2="985.99" y2="989.50" stroke="#a0ffff" stroke-width="2.79"/><line x1="985.31" y1="956.27" x2="1016.31" y2="934.27" stroke="#a0ffff" stroke-width="2.79"/><line x1="1043.50" y1="954.90" x2="1043.50" y2="992.40" stroke="#a0ffff" stroke-width="2.79"/><line x1="1019.82" y1="1010.52" x2="988.82" y2="989.82" stroke="#a0ffff" stroke-width="2.79"/><line x1="1048.02" y1="989.64" x2="1074.42" y2="1003.24" stroke="#a0ffff" stroke-width="2.79"/><line x1="1071.77" y1="1003.16" x2="1101.77" y2="990.16" stroke="#a0ffff" stroke-width="2.79"/><line x1="1104.44" y1="990.26" x2="1132.94" y2="1005.26" stroke="#a0ffff" stroke-width="2.79"/><line x1="1128.40" y1="1007.98" x2="1128.20" y2="1048.18" stroke="#a0ffff" stroke-width="2.79"/><line x1="1129.77" y1="1045.51" x2="1099.17" y2="1062.91" stroke="#a0ffff" stroke-width="2.79"/><line x1="1070.00" y1="1048.21" x2="1069.90" y2="1006.01" stroke="#a0ffff" stroke-width="2.79"/><line x1="1099.90" y1="993.03" x2="1099.60" y2="956.33" stroke="#a0ffff" stroke-width="2.79"/><line x1="1101.19" y1="953.59" x2="1115.34" y2="945.69" stroke="#a0ffff" stroke-width="2.79"/><line x1="1115.34" y1="945.69" x2="1129.49" y2="937.79" stroke="#8c8cff" stroke-width="2.79"/><line x1="1127.90" y1="940.34" x2="1128.90" y2="920.59" stroke="#8c8cff" stroke-width="2.79"/><line x1="1128.90" y1="920.59" x2="1129.90" y2="900.84" stroke="#a0ffff" stroke-width="2.79"/><line x1="1132.41" y1="897.96" x2="1165.91" y2="891.46" stroke="#a0ffff" stroke-width="2.79"/><line x1="1163.73" y1="895.89" x2="1179.23" y2="926.89" stroke="#a0ffff" stroke-width="2.79"/><line x1="1179.58" y1="923.56" x2="1157.58" y2="951.06" stroke="#a0ffff" stroke-width="2.79"/><line x1="1161.23" y1="950.15" x2="1146.73" y2="943.90" stroke="#a0ffff" stroke-width="2.79"/><line x1="1146.73" y1="943.90" x2="1132.23" y2="937.65" stroke="#8c8cff" stroke-width="2.79"/><line x1="1132.89" y1="1045.54" x2="1161.99" y2="1062.94" stroke="#a0ffff" stroke-width="2.79"/><line x1="1157.31" y1="1065.42" x2="1156.36" y2="1082.12" stroke="#a0ffff" stroke-width="2.79"/><line x1="1156.36" y1="1082.12" x2="1155.41" y2="1098.82" stroke="#8c8cff" stroke-width="2.79"/><line x1="1156.75" y1="1096.44" x2="1142.50" y2="1106.19" stroke="#8c8cff" stroke-width="2.79"/><line x1="1142.50" y1="1106.19" x2="1128.25" y2="1115.94" stroke="#a0ffff" stroke-width="2.79"/><line x1="1127.03" y1="1119.37" x2="1137.03" y2="1153.37" stroke="#a0ffff" stroke-width="2.79"/><line x1="1140.00" y1="1149.40" x2="1176.50" y2="1149.40" stroke="#a0ffff" stroke-width="2.79"/><line x1="1173.51" y1="1151.70" x2="1183.01" y2="1116.20" stroke="#a0ffff" stroke-width="2.79"/><line x1="1187.70" y1="1114.41" x2="1173.95" y2="1105.41" stroke="#a0ffff" stroke-width="2.79"/><line x1="1173.95" y1="1105.41" x2="1160.20" y2="1096.41" stroke="#8c8cff" stroke-width="2.79"/><line x1="1129.95" y1="1005.32" x2="1158.45" y2="988.82" stroke="#a0ffff" stroke-width="2.79"/><line x1="1182.50" y1="1009.63" x2="1210.80" y2="985.73" stroke="#a0ffff" stroke-width="2.79"/><line x1="1209.70" y1="988.10" x2="1209.70" y2="953.10" stroke="#a0ffff" stroke-width="2.79"/><line x1="1242.71" y1="933.91" x2="1273.81" y2="954.41" stroke="#a0ffff" stroke-width="2.79"/><line x1="1270.14" y1="985.70" x2="1239.04" y2="1011.00" stroke="#a0ffff" stroke-width="2.79"/><line x1="1270.84" y1="954.17" x2="1283.99" y2="948.32" stroke="#a0ffff" stroke-width="2.79"/><line x1="1283.99" y1="948.32" x2="1297.14" y2="942.47" stroke="#ffa8a8" stroke-width="2.79"/><line x1="1300.74" y1="943.27" x2="1313.39" y2="957.87" stroke="#ffa8a8" stroke-width="2.79"/><line x1="1313.39" y1="957.87" x2="1326.04" y2="972.47" stroke="#a0ffff" stroke-width="2.79"/><line x1="1321.26" y1="972.59" x2="1309.11" y2="988.14" stroke="#a0ffff" stroke-width="2.79"/><line x1="1309.11" y1="988.14" x2="1296.96" y2="1003.69" stroke="#ffa8a8" stroke-width="2.79"/><line x1="1301.07" y1="1002.99" x2="1287.42" y2="994.24" stroke="#ffa8a8" stroke-width="2.79"/><line x1="1287.42" y1="994.24" x2="1273.77" y2="985.49" stroke="#a0ffff" stroke-width="2.79"/>
</svg></body></html>
